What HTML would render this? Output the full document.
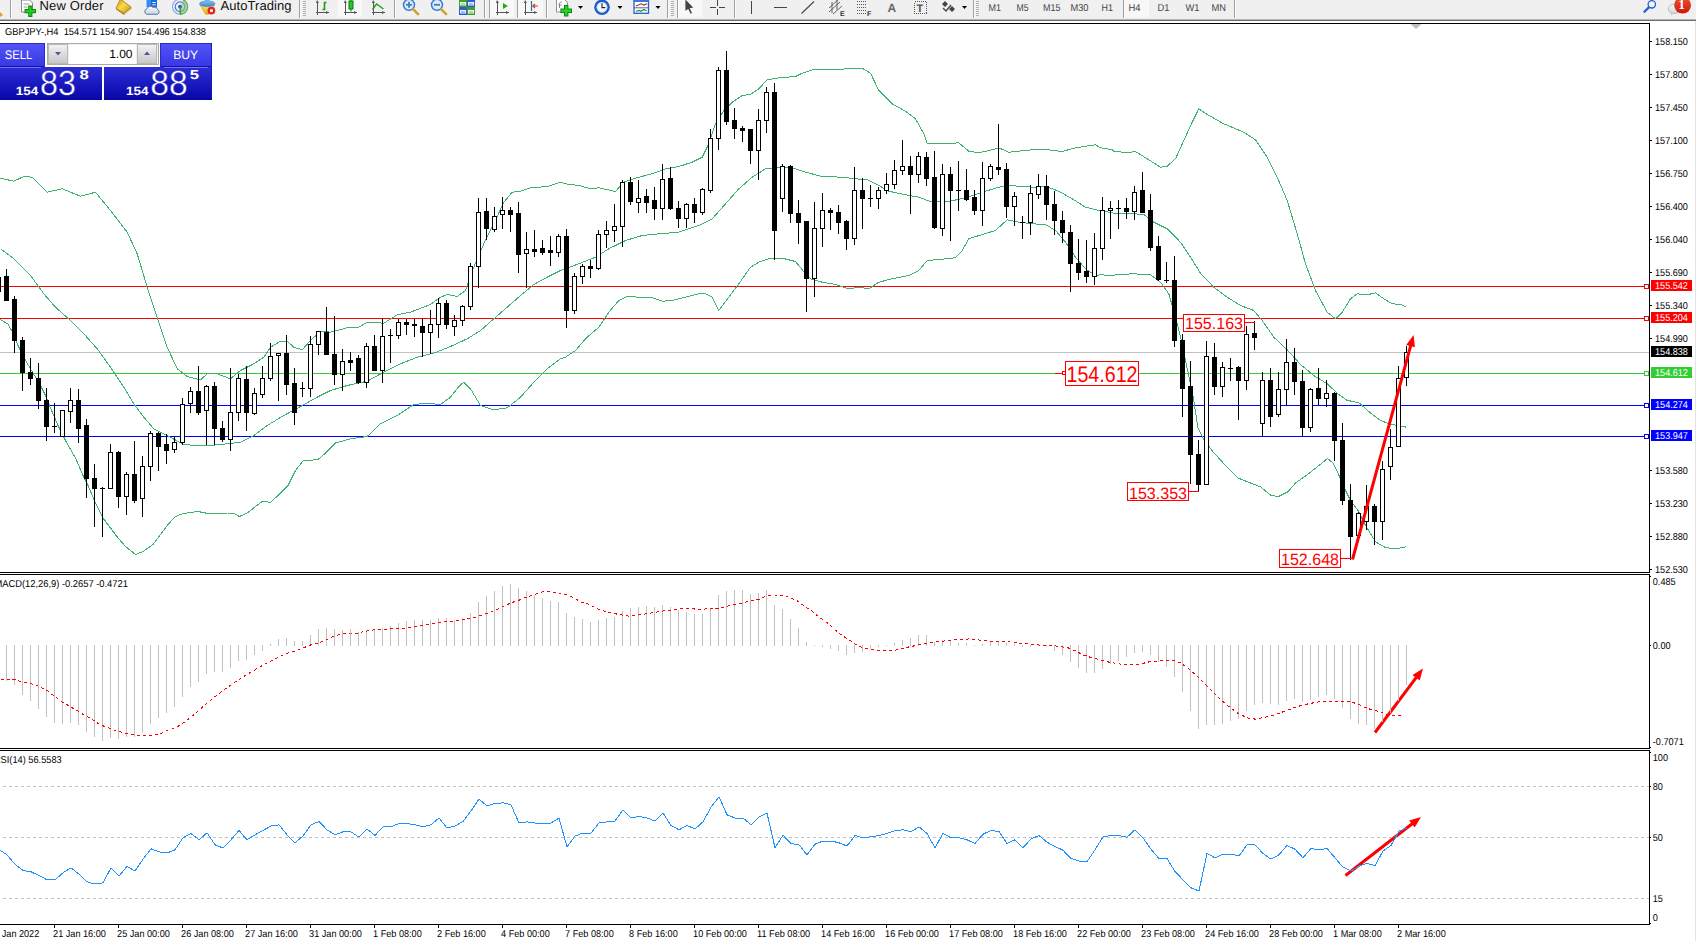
<!DOCTYPE html>
<html><head><meta charset="utf-8"><title>GBPJPY H4</title>
<style>html,body{margin:0;padding:0;background:#fff;overflow:hidden}body{width:1696px;height:941px;position:relative;font-family:"Liberation Sans",sans-serif}</style>
</head><body>
<svg width="1696" height="941" viewBox="0 0 1696 941" style="position:absolute;left:0;top:0;text-rendering:geometricPrecision">
<rect x="0" y="0" width="1696" height="941" fill="#fff"/>
<g shape-rendering="crispEdges">
<rect x="0" y="352" width="1649" height="1" fill="#c0c0c0"/>
<rect x="0" y="286" width="1649" height="1" fill="#ff0000"/>
<rect x="0" y="318" width="1649" height="1" fill="#ff0000"/>
<rect x="0" y="373" width="1649" height="1" fill="#32cd32"/>
<rect x="0" y="405" width="1649" height="1" fill="#0000ff"/>
<rect x="0" y="436" width="1649" height="1" fill="#0000ff"/>
</g>
<polyline points="0.5,178.2 13.8,181.2 23.8,176.5 32.2,177.2 47.2,192.2 62.2,188.8 80.5,196.2 95.5,192.2 110.5,210.5 127.2,232.2 137.2,253.8 147.2,287.2 157.2,317.2 167.2,347.2 177.2,368.8 187.2,376.5 200.5,379.8 207.2,373.8 217.2,373.8 230.5,378.8 240.5,370.5 253.8,363.8 263.8,357.2 270.5,347.2 280.5,341.2 287.2,341.2 293.8,347.2 302.2,349.8 310.5,340.5 320.5,331.2 330.5,332.2 347.2,327.8 358.8,327.2 367.2,322.2 383.8,323.2 397.2,314.8 410.5,312.2 430.5,304.5 440.5,297.2 447.2,294.5 457.2,296.5 465.5,290.5 473.8,267.2 483.8,243.8 493.8,223.8 503.8,202.2 512.2,192.2 520.5,191.2 530.5,187.8 547.2,186.5 560.5,182.2 565.5,183.8 578.8,185.5 590.5,188.8 598.8,187.8 615.5,191.5 623.8,182.2 638.8,177.2 652.2,173.8 665.5,168.8 678.8,166.5 692.2,162.2 702.2,157.2 707.2,147.2 715.5,123.8 723.8,110.5 732.2,102.2 742.2,95.5 750.5,94.5 758.8,88.8 767.2,79.8 778.8,77.8 795.5,76.5 802.2,73.2 812.2,69.8 832.2,69.5 848.8,68.8 862.2,68.2 870.5,73.2 878.8,90.5 892.2,103.8 905.5,111.2 915.5,118.8 923.8,133.8 927.2,143.2 945.5,143.8 958.8,142.8 968.8,151.2 978.8,152.8 992.2,149.8 998.8,147.8 1008.8,152.2 1032.2,149.8 1048.8,149.8 1062.2,151.5 1075.5,147.8 1095.5,144.8 1100.5,147.8 1112.2,149.8 1113.8,151.2 1127.2,152.8 1135.5,151.5 1147.2,158.8 1160.5,167.2 1167.2,166.2 1175.5,158.8 1183.8,140.5 1192.2,122.2 1198.8,108.8 1207.2,114.5 1223.8,123.8 1243.8,132.2 1255.5,139.8 1267.2,157.2 1277.2,177.2 1287.2,200.5 1297.2,233.8 1305.5,263.8 1315.5,290.5 1327.2,312.2 1335.5,318.8 1342.2,312.2 1350.5,298.8 1357.2,293.8 1367.2,294.8 1375.5,292.8 1383.8,298.8 1392.2,303.8 1400.5,304.5 1406.5,307.2" fill="none" stroke="#3CB371" stroke-width="1" shape-rendering="crispEdges"/>
<polyline points="0.5,248.8 13.8,258.8 30.5,275.5 43.8,293.8 55.5,307.2 70.5,320.5 83.8,333.8 97.2,348.8 110.5,367.2 123.8,387.2 133.8,403.8 143.8,417.2 153.8,428.8 163.0,433.5 175.5,440.0 183.0,444.2 198.0,446.0 215.5,445.0 230.5,443.5 240.5,442.2 253.8,435.5 267.2,425.5 283.8,415.5 300.5,406.5 317.2,397.2 330.5,390.5 347.2,385.5 367.2,381.2 383.8,372.2 400.5,363.8 417.2,357.2 433.8,353.2 450.5,346.5 467.2,338.8 480.5,330.5 493.8,318.8 507.2,307.2 520.5,295.5 533.8,284.5 547.2,277.2 560.5,270.5 565.5,268.8 578.8,263.8 595.5,257.2 608.8,248.8 625.5,240.5 642.2,235.5 658.8,233.8 678.8,232.2 698.8,225.5 712.2,218.8 725.5,203.8 738.8,188.8 752.2,177.2 765.5,168.8 778.8,167.2 792.2,167.8 805.5,172.2 822.2,176.5 842.2,177.2 855.5,178.8 867.2,179.8 878.8,185.5 888.8,191.2 905.5,194.8 918.8,197.2 932.2,202.2 948.8,201.5 965.5,197.8 982.2,192.2 998.8,187.2 1008.8,185.5 1032.2,187.2 1045.5,186.5 1058.8,191.2 1072.2,198.8 1085.5,207.2 1098.8,210.5 1100.5,210.5 1113.8,213.2 1115.5,213.2 1133.8,213.8 1143.8,214.5 1153.8,222.2 1167.2,228.8 1180.5,242.2 1190.5,257.2 1200.5,273.2 1213.8,287.2 1227.2,297.2 1240.5,305.5 1253.8,310.5 1262.2,320.5 1273.8,337.2 1287.2,349.8 1300.5,364.5 1313.8,375.5 1327.2,383.8 1337.2,393.2 1347.2,400.5 1350.5,401.0 1359.2,403.0 1370.5,413.0 1380.5,420.5 1390.5,424.2 1400.5,426.0 1406.5,427.2" fill="none" stroke="#3CB371" stroke-width="1" shape-rendering="crispEdges"/>
<polyline points="0.5,319.5 8.0,324.2 13.0,333.0 18.0,345.5 25.5,360.5 33.0,373.0 40.5,385.5 45.5,395.5 50.5,408.0 58.0,425.5 65.5,440.5 75.5,458.0 83.0,475.5 88.0,485.5 95.5,503.0 103.0,518.0 110.5,528.0 118.0,538.0 125.5,546.5 135.5,554.5 143.0,551.5 153.0,544.5 160.5,534.5 168.0,524.5 175.5,516.5 183.0,513.5 198.0,511.5 208.0,513.5 228.0,513.0 233.0,513.0 239.5,516.5 248.0,512.5 255.5,506.5 263.0,501.0 270.5,502.5 278.0,495.5 288.0,485.5 295.5,470.5 303.0,461.0 318.0,459.5 325.5,453.0 335.5,443.0 350.5,438.8 367.2,436.5 380.5,423.8 397.2,415.5 413.8,404.5 427.2,403.2 440.5,404.5 450.5,397.2 458.8,386.5 463.8,382.2 470.5,388.8 480.5,405.5 493.8,409.8 507.2,407.8 520.5,397.2 533.8,382.2 547.2,368.8 560.5,358.8 565.5,357.2 575.5,350.5 585.5,338.8 598.8,327.2 608.8,312.2 618.8,300.5 627.2,296.5 638.8,297.2 652.2,297.8 662.2,301.2 672.2,300.5 685.5,297.2 698.8,293.8 705.5,293.8 712.2,297.2 718.8,310.5 728.8,297.2 738.8,283.8 750.5,267.2 758.8,262.2 768.8,258.8 782.2,258.2 795.5,261.5 805.5,273.8 810.5,278.8 822.2,282.2 835.5,284.5 848.8,288.8 858.8,287.2 868.8,288.8 878.8,282.2 892.2,278.8 908.8,275.5 918.8,270.5 927.2,260.5 938.8,259.5 955.5,257.8 962.2,250.5 968.8,238.8 982.2,234.5 995.5,230.5 1007.2,219.8 1018.8,222.2 1032.2,223.8 1045.5,224.5 1055.5,230.5 1065.5,242.2 1075.5,257.2 1085.5,268.8 1095.5,275.5 1100.5,274.8 1112.2,275.5 1117.2,274.5 1133.8,273.8 1150.5,274.8 1160.5,282.2 1168.8,293.8 1175.5,317.2 1182.2,343.8 1185.5,360.5 1193.0,395.5 1198.0,428.0 1203.0,438.0 1213.0,451.8 1225.5,465.5 1238.0,478.0 1250.5,483.0 1260.5,486.8 1270.5,495.0 1278.0,496.8 1288.0,491.8 1295.5,483.0 1308.0,474.2 1320.5,464.2 1327.5,458.5 1333.0,463.0 1338.0,473.0 1343.0,485.5 1350.5,500.5 1358.0,510.5 1365.5,525.5 1375.5,541.8 1385.5,547.5 1395.5,548.8 1406.5,546.8" fill="none" stroke="#3CB371" stroke-width="1" shape-rendering="crispEdges"/>
<g shape-rendering="crispEdges">
<rect x="-2" y="270" width="1" height="23" fill="#000"/>
<rect x="-4" y="277" width="5" height="15" fill="#000"/>
<rect x="6" y="269" width="1" height="32" fill="#000"/>
<rect x="4" y="276" width="5" height="25" fill="#000"/>
<rect x="14" y="296" width="1" height="57" fill="#000"/>
<rect x="12" y="299" width="5" height="42" fill="#000"/>
<rect x="22" y="337" width="1" height="54" fill="#000"/>
<rect x="20" y="340" width="5" height="33" fill="#000"/>
<rect x="30" y="358" width="1" height="27" fill="#000"/>
<rect x="28" y="372" width="5" height="7" fill="#000"/>
<rect x="38" y="363" width="1" height="46" fill="#000"/>
<rect x="36" y="378" width="5" height="23" fill="#000"/>
<rect x="46" y="388" width="1" height="53" fill="#000"/>
<rect x="44" y="400" width="5" height="27" fill="#000"/>
<rect x="54" y="403" width="1" height="30" fill="#000"/>
<rect x="52" y="426" width="5" height="1" fill="#000"/>
<rect x="62" y="410" width="1" height="27" fill="#000"/>
<rect x="60" y="410" width="5" height="27" fill="#000"/>
<rect x="61" y="411" width="3" height="25" fill="#fff"/>
<rect x="70" y="388" width="1" height="35" fill="#000"/>
<rect x="68" y="400" width="5" height="12" fill="#000"/>
<rect x="69" y="401" width="3" height="10" fill="#fff"/>
<rect x="78" y="389" width="1" height="54" fill="#000"/>
<rect x="76" y="400" width="5" height="29" fill="#000"/>
<rect x="86" y="419" width="1" height="79" fill="#000"/>
<rect x="84" y="425" width="5" height="54" fill="#000"/>
<rect x="94" y="464" width="1" height="63" fill="#000"/>
<rect x="92" y="478" width="5" height="11" fill="#000"/>
<rect x="102" y="487" width="1" height="50" fill="#000"/>
<rect x="100" y="488" width="5" height="1" fill="#000"/>
<rect x="110" y="444" width="1" height="45" fill="#000"/>
<rect x="108" y="452" width="5" height="37" fill="#000"/>
<rect x="109" y="453" width="3" height="35" fill="#fff"/>
<rect x="118" y="451" width="1" height="57" fill="#000"/>
<rect x="116" y="452" width="5" height="45" fill="#000"/>
<rect x="126" y="472" width="1" height="43" fill="#000"/>
<rect x="124" y="474" width="5" height="23" fill="#000"/>
<rect x="125" y="475" width="3" height="21" fill="#fff"/>
<rect x="134" y="441" width="1" height="62" fill="#000"/>
<rect x="132" y="474" width="5" height="27" fill="#000"/>
<rect x="142" y="456" width="1" height="61" fill="#000"/>
<rect x="140" y="466" width="5" height="33" fill="#000"/>
<rect x="141" y="467" width="3" height="31" fill="#fff"/>
<rect x="150" y="431" width="1" height="50" fill="#000"/>
<rect x="148" y="433" width="5" height="34" fill="#000"/>
<rect x="149" y="434" width="3" height="32" fill="#fff"/>
<rect x="158" y="432" width="1" height="39" fill="#000"/>
<rect x="156" y="433" width="5" height="14" fill="#000"/>
<rect x="166" y="434" width="1" height="30" fill="#000"/>
<rect x="164" y="444" width="5" height="7" fill="#000"/>
<rect x="174" y="437" width="1" height="16" fill="#000"/>
<rect x="172" y="442" width="5" height="8" fill="#000"/>
<rect x="173" y="443" width="3" height="6" fill="#fff"/>
<rect x="182" y="398" width="1" height="47" fill="#000"/>
<rect x="180" y="404" width="5" height="39" fill="#000"/>
<rect x="181" y="405" width="3" height="37" fill="#fff"/>
<rect x="190" y="387" width="1" height="26" fill="#000"/>
<rect x="188" y="391" width="5" height="13" fill="#000"/>
<rect x="189" y="392" width="3" height="11" fill="#fff"/>
<rect x="198" y="366" width="1" height="49" fill="#000"/>
<rect x="196" y="391" width="5" height="22" fill="#000"/>
<rect x="206" y="385" width="1" height="60" fill="#000"/>
<rect x="204" y="386" width="5" height="25" fill="#000"/>
<rect x="205" y="387" width="3" height="23" fill="#fff"/>
<rect x="214" y="382" width="1" height="63" fill="#000"/>
<rect x="212" y="386" width="5" height="43" fill="#000"/>
<rect x="222" y="421" width="1" height="21" fill="#000"/>
<rect x="220" y="428" width="5" height="12" fill="#000"/>
<rect x="230" y="368" width="1" height="83" fill="#000"/>
<rect x="228" y="412" width="5" height="28" fill="#000"/>
<rect x="229" y="413" width="3" height="26" fill="#fff"/>
<rect x="238" y="374" width="1" height="47" fill="#000"/>
<rect x="236" y="378" width="5" height="35" fill="#000"/>
<rect x="237" y="379" width="3" height="33" fill="#fff"/>
<rect x="246" y="366" width="1" height="65" fill="#000"/>
<rect x="244" y="379" width="5" height="34" fill="#000"/>
<rect x="254" y="388" width="1" height="27" fill="#000"/>
<rect x="252" y="393" width="5" height="21" fill="#000"/>
<rect x="253" y="394" width="3" height="19" fill="#fff"/>
<rect x="262" y="366" width="1" height="32" fill="#000"/>
<rect x="260" y="378" width="5" height="17" fill="#000"/>
<rect x="261" y="379" width="3" height="15" fill="#fff"/>
<rect x="270" y="343" width="1" height="38" fill="#000"/>
<rect x="268" y="356" width="5" height="23" fill="#000"/>
<rect x="269" y="357" width="3" height="21" fill="#fff"/>
<rect x="278" y="353" width="1" height="48" fill="#000"/>
<rect x="276" y="353" width="5" height="3" fill="#000"/>
<rect x="277" y="354" width="3" height="1" fill="#fff"/>
<rect x="286" y="335" width="1" height="60" fill="#000"/>
<rect x="284" y="353" width="5" height="32" fill="#000"/>
<rect x="294" y="368" width="1" height="57" fill="#000"/>
<rect x="292" y="383" width="5" height="30" fill="#000"/>
<rect x="302" y="382" width="1" height="15" fill="#000"/>
<rect x="300" y="388" width="5" height="1" fill="#000"/>
<rect x="310" y="336" width="1" height="61" fill="#000"/>
<rect x="308" y="344" width="5" height="45" fill="#000"/>
<rect x="309" y="345" width="3" height="43" fill="#fff"/>
<rect x="318" y="331" width="1" height="24" fill="#000"/>
<rect x="316" y="331" width="5" height="14" fill="#000"/>
<rect x="317" y="332" width="3" height="12" fill="#fff"/>
<rect x="326" y="307" width="1" height="48" fill="#000"/>
<rect x="324" y="332" width="5" height="23" fill="#000"/>
<rect x="334" y="316" width="1" height="69" fill="#000"/>
<rect x="332" y="354" width="5" height="21" fill="#000"/>
<rect x="342" y="349" width="1" height="42" fill="#000"/>
<rect x="340" y="361" width="5" height="14" fill="#000"/>
<rect x="341" y="362" width="3" height="12" fill="#fff"/>
<rect x="350" y="352" width="1" height="19" fill="#000"/>
<rect x="348" y="360" width="5" height="3" fill="#000"/>
<rect x="358" y="355" width="1" height="29" fill="#000"/>
<rect x="356" y="358" width="5" height="25" fill="#000"/>
<rect x="366" y="343" width="1" height="45" fill="#000"/>
<rect x="364" y="346" width="5" height="37" fill="#000"/>
<rect x="365" y="347" width="3" height="35" fill="#fff"/>
<rect x="374" y="335" width="1" height="36" fill="#000"/>
<rect x="372" y="346" width="5" height="25" fill="#000"/>
<rect x="382" y="319" width="1" height="64" fill="#000"/>
<rect x="380" y="336" width="5" height="35" fill="#000"/>
<rect x="381" y="337" width="3" height="33" fill="#fff"/>
<rect x="390" y="329" width="1" height="34" fill="#000"/>
<rect x="388" y="335" width="5" height="1" fill="#000"/>
<rect x="398" y="319" width="1" height="20" fill="#000"/>
<rect x="396" y="322" width="5" height="14" fill="#000"/>
<rect x="397" y="323" width="3" height="12" fill="#fff"/>
<rect x="406" y="319" width="1" height="16" fill="#000"/>
<rect x="404" y="322" width="5" height="3" fill="#000"/>
<rect x="414" y="319" width="1" height="18" fill="#000"/>
<rect x="412" y="324" width="5" height="2" fill="#000"/>
<rect x="422" y="319" width="1" height="38" fill="#000"/>
<rect x="420" y="326" width="5" height="7" fill="#000"/>
<rect x="430" y="310" width="1" height="44" fill="#000"/>
<rect x="428" y="324" width="5" height="9" fill="#000"/>
<rect x="429" y="325" width="3" height="7" fill="#fff"/>
<rect x="438" y="298" width="1" height="40" fill="#000"/>
<rect x="436" y="303" width="5" height="22" fill="#000"/>
<rect x="437" y="304" width="3" height="20" fill="#fff"/>
<rect x="446" y="300" width="1" height="29" fill="#000"/>
<rect x="444" y="303" width="5" height="22" fill="#000"/>
<rect x="454" y="315" width="1" height="21" fill="#000"/>
<rect x="452" y="320" width="5" height="7" fill="#000"/>
<rect x="453" y="321" width="3" height="5" fill="#fff"/>
<rect x="462" y="305" width="1" height="21" fill="#000"/>
<rect x="460" y="306" width="5" height="15" fill="#000"/>
<rect x="461" y="307" width="3" height="13" fill="#fff"/>
<rect x="470" y="263" width="1" height="47" fill="#000"/>
<rect x="468" y="266" width="5" height="41" fill="#000"/>
<rect x="469" y="267" width="3" height="39" fill="#fff"/>
<rect x="478" y="198" width="1" height="90" fill="#000"/>
<rect x="476" y="212" width="5" height="55" fill="#000"/>
<rect x="477" y="213" width="3" height="53" fill="#fff"/>
<rect x="486" y="198" width="1" height="42" fill="#000"/>
<rect x="484" y="211" width="5" height="18" fill="#000"/>
<rect x="494" y="207" width="1" height="25" fill="#000"/>
<rect x="492" y="216" width="5" height="14" fill="#000"/>
<rect x="493" y="217" width="3" height="12" fill="#fff"/>
<rect x="502" y="197" width="1" height="32" fill="#000"/>
<rect x="500" y="210" width="5" height="5" fill="#000"/>
<rect x="501" y="211" width="3" height="3" fill="#fff"/>
<rect x="510" y="207" width="1" height="25" fill="#000"/>
<rect x="508" y="210" width="5" height="5" fill="#000"/>
<rect x="518" y="202" width="1" height="71" fill="#000"/>
<rect x="516" y="213" width="5" height="42" fill="#000"/>
<rect x="526" y="232" width="1" height="56" fill="#000"/>
<rect x="524" y="249" width="5" height="5" fill="#000"/>
<rect x="525" y="250" width="3" height="3" fill="#fff"/>
<rect x="534" y="230" width="1" height="27" fill="#000"/>
<rect x="532" y="249" width="5" height="3" fill="#000"/>
<rect x="542" y="240" width="1" height="15" fill="#000"/>
<rect x="540" y="248" width="5" height="5" fill="#000"/>
<rect x="550" y="236" width="1" height="30" fill="#000"/>
<rect x="548" y="250" width="5" height="3" fill="#000"/>
<rect x="558" y="234" width="1" height="23" fill="#000"/>
<rect x="556" y="236" width="5" height="17" fill="#000"/>
<rect x="557" y="237" width="3" height="15" fill="#fff"/>
<rect x="566" y="229" width="1" height="99" fill="#000"/>
<rect x="564" y="236" width="5" height="75" fill="#000"/>
<rect x="574" y="273" width="1" height="41" fill="#000"/>
<rect x="572" y="276" width="5" height="35" fill="#000"/>
<rect x="573" y="277" width="3" height="33" fill="#fff"/>
<rect x="582" y="264" width="1" height="20" fill="#000"/>
<rect x="580" y="266" width="5" height="11" fill="#000"/>
<rect x="581" y="267" width="3" height="9" fill="#fff"/>
<rect x="590" y="260" width="1" height="18" fill="#000"/>
<rect x="588" y="266" width="5" height="3" fill="#000"/>
<rect x="598" y="230" width="1" height="40" fill="#000"/>
<rect x="596" y="234" width="5" height="35" fill="#000"/>
<rect x="597" y="235" width="3" height="33" fill="#fff"/>
<rect x="606" y="221" width="1" height="27" fill="#000"/>
<rect x="604" y="230" width="5" height="5" fill="#000"/>
<rect x="605" y="231" width="3" height="3" fill="#fff"/>
<rect x="614" y="204" width="1" height="38" fill="#000"/>
<rect x="612" y="226" width="5" height="5" fill="#000"/>
<rect x="613" y="227" width="3" height="3" fill="#fff"/>
<rect x="622" y="180" width="1" height="67" fill="#000"/>
<rect x="620" y="182" width="5" height="45" fill="#000"/>
<rect x="621" y="183" width="3" height="43" fill="#fff"/>
<rect x="630" y="177" width="1" height="28" fill="#000"/>
<rect x="628" y="182" width="5" height="20" fill="#000"/>
<rect x="638" y="180" width="1" height="33" fill="#000"/>
<rect x="636" y="198" width="5" height="5" fill="#000"/>
<rect x="637" y="199" width="3" height="3" fill="#fff"/>
<rect x="646" y="189" width="1" height="24" fill="#000"/>
<rect x="644" y="196" width="5" height="7" fill="#000"/>
<rect x="654" y="187" width="1" height="33" fill="#000"/>
<rect x="652" y="200" width="5" height="9" fill="#000"/>
<rect x="662" y="164" width="1" height="56" fill="#000"/>
<rect x="660" y="179" width="5" height="30" fill="#000"/>
<rect x="661" y="180" width="3" height="28" fill="#fff"/>
<rect x="670" y="167" width="1" height="43" fill="#000"/>
<rect x="668" y="178" width="5" height="31" fill="#000"/>
<rect x="678" y="201" width="1" height="27" fill="#000"/>
<rect x="676" y="208" width="5" height="11" fill="#000"/>
<rect x="686" y="203" width="1" height="25" fill="#000"/>
<rect x="684" y="204" width="5" height="15" fill="#000"/>
<rect x="685" y="205" width="3" height="13" fill="#fff"/>
<rect x="694" y="198" width="1" height="25" fill="#000"/>
<rect x="692" y="204" width="5" height="9" fill="#000"/>
<rect x="702" y="188" width="1" height="27" fill="#000"/>
<rect x="700" y="189" width="5" height="24" fill="#000"/>
<rect x="701" y="190" width="3" height="22" fill="#fff"/>
<rect x="710" y="129" width="1" height="64" fill="#000"/>
<rect x="708" y="138" width="5" height="53" fill="#000"/>
<rect x="709" y="139" width="3" height="51" fill="#fff"/>
<rect x="718" y="67" width="1" height="83" fill="#000"/>
<rect x="716" y="70" width="5" height="69" fill="#000"/>
<rect x="717" y="71" width="3" height="67" fill="#fff"/>
<rect x="726" y="51" width="1" height="74" fill="#000"/>
<rect x="724" y="70" width="5" height="52" fill="#000"/>
<rect x="734" y="108" width="1" height="31" fill="#000"/>
<rect x="732" y="120" width="5" height="9" fill="#000"/>
<rect x="742" y="126" width="1" height="16" fill="#000"/>
<rect x="740" y="128" width="5" height="3" fill="#000"/>
<rect x="750" y="129" width="1" height="35" fill="#000"/>
<rect x="748" y="129" width="5" height="22" fill="#000"/>
<rect x="758" y="109" width="1" height="71" fill="#000"/>
<rect x="756" y="120" width="5" height="31" fill="#000"/>
<rect x="757" y="121" width="3" height="29" fill="#fff"/>
<rect x="766" y="87" width="1" height="46" fill="#000"/>
<rect x="764" y="92" width="5" height="29" fill="#000"/>
<rect x="765" y="93" width="3" height="27" fill="#fff"/>
<rect x="774" y="83" width="1" height="177" fill="#000"/>
<rect x="772" y="92" width="5" height="139" fill="#000"/>
<rect x="782" y="164" width="1" height="48" fill="#000"/>
<rect x="780" y="166" width="5" height="33" fill="#000"/>
<rect x="781" y="167" width="3" height="31" fill="#fff"/>
<rect x="790" y="165" width="1" height="58" fill="#000"/>
<rect x="788" y="166" width="5" height="48" fill="#000"/>
<rect x="798" y="200" width="1" height="44" fill="#000"/>
<rect x="796" y="213" width="5" height="10" fill="#000"/>
<rect x="806" y="221" width="1" height="91" fill="#000"/>
<rect x="804" y="221" width="5" height="58" fill="#000"/>
<rect x="814" y="202" width="1" height="95" fill="#000"/>
<rect x="812" y="228" width="5" height="51" fill="#000"/>
<rect x="813" y="229" width="3" height="49" fill="#fff"/>
<rect x="822" y="193" width="1" height="54" fill="#000"/>
<rect x="820" y="210" width="5" height="19" fill="#000"/>
<rect x="821" y="211" width="3" height="17" fill="#fff"/>
<rect x="830" y="208" width="1" height="22" fill="#000"/>
<rect x="828" y="210" width="5" height="3" fill="#000"/>
<rect x="838" y="205" width="1" height="29" fill="#000"/>
<rect x="836" y="212" width="5" height="11" fill="#000"/>
<rect x="846" y="220" width="1" height="30" fill="#000"/>
<rect x="844" y="221" width="5" height="18" fill="#000"/>
<rect x="854" y="167" width="1" height="78" fill="#000"/>
<rect x="852" y="190" width="5" height="49" fill="#000"/>
<rect x="853" y="191" width="3" height="47" fill="#fff"/>
<rect x="862" y="178" width="1" height="51" fill="#000"/>
<rect x="860" y="190" width="5" height="9" fill="#000"/>
<rect x="870" y="185" width="1" height="22" fill="#000"/>
<rect x="868" y="198" width="5" height="1" fill="#000"/>
<rect x="878" y="187" width="1" height="22" fill="#000"/>
<rect x="876" y="190" width="5" height="9" fill="#000"/>
<rect x="877" y="191" width="3" height="7" fill="#fff"/>
<rect x="886" y="173" width="1" height="21" fill="#000"/>
<rect x="884" y="184" width="5" height="7" fill="#000"/>
<rect x="885" y="185" width="3" height="5" fill="#fff"/>
<rect x="894" y="160" width="1" height="29" fill="#000"/>
<rect x="892" y="170" width="5" height="15" fill="#000"/>
<rect x="893" y="171" width="3" height="13" fill="#fff"/>
<rect x="902" y="140" width="1" height="35" fill="#000"/>
<rect x="900" y="166" width="5" height="5" fill="#000"/>
<rect x="901" y="167" width="3" height="3" fill="#fff"/>
<rect x="910" y="156" width="1" height="58" fill="#000"/>
<rect x="908" y="166" width="5" height="9" fill="#000"/>
<rect x="918" y="152" width="1" height="31" fill="#000"/>
<rect x="916" y="156" width="5" height="19" fill="#000"/>
<rect x="917" y="157" width="3" height="17" fill="#fff"/>
<rect x="926" y="152" width="1" height="34" fill="#000"/>
<rect x="924" y="157" width="5" height="22" fill="#000"/>
<rect x="934" y="151" width="1" height="78" fill="#000"/>
<rect x="932" y="177" width="5" height="51" fill="#000"/>
<rect x="942" y="164" width="1" height="72" fill="#000"/>
<rect x="940" y="174" width="5" height="55" fill="#000"/>
<rect x="941" y="175" width="3" height="53" fill="#fff"/>
<rect x="950" y="167" width="1" height="74" fill="#000"/>
<rect x="948" y="174" width="5" height="17" fill="#000"/>
<rect x="958" y="161" width="1" height="50" fill="#000"/>
<rect x="956" y="190" width="5" height="1" fill="#000"/>
<rect x="966" y="169" width="1" height="32" fill="#000"/>
<rect x="964" y="190" width="5" height="10" fill="#000"/>
<rect x="974" y="190" width="1" height="25" fill="#000"/>
<rect x="972" y="197" width="5" height="14" fill="#000"/>
<rect x="982" y="162" width="1" height="64" fill="#000"/>
<rect x="980" y="178" width="5" height="33" fill="#000"/>
<rect x="981" y="179" width="3" height="31" fill="#fff"/>
<rect x="990" y="164" width="1" height="17" fill="#000"/>
<rect x="988" y="166" width="5" height="13" fill="#000"/>
<rect x="989" y="167" width="3" height="11" fill="#fff"/>
<rect x="998" y="124" width="1" height="51" fill="#000"/>
<rect x="996" y="167" width="5" height="3" fill="#000"/>
<rect x="1006" y="163" width="1" height="55" fill="#000"/>
<rect x="1004" y="169" width="5" height="38" fill="#000"/>
<rect x="1014" y="192" width="1" height="34" fill="#000"/>
<rect x="1012" y="196" width="5" height="11" fill="#000"/>
<rect x="1013" y="197" width="3" height="9" fill="#fff"/>
<rect x="1022" y="216" width="1" height="23" fill="#000"/>
<rect x="1020" y="222" width="5" height="1" fill="#000"/>
<rect x="1030" y="185" width="1" height="50" fill="#000"/>
<rect x="1028" y="193" width="5" height="30" fill="#000"/>
<rect x="1029" y="194" width="3" height="28" fill="#fff"/>
<rect x="1038" y="174" width="1" height="25" fill="#000"/>
<rect x="1036" y="186" width="5" height="9" fill="#000"/>
<rect x="1037" y="187" width="3" height="7" fill="#fff"/>
<rect x="1046" y="175" width="1" height="45" fill="#000"/>
<rect x="1044" y="186" width="5" height="19" fill="#000"/>
<rect x="1054" y="191" width="1" height="44" fill="#000"/>
<rect x="1052" y="204" width="5" height="17" fill="#000"/>
<rect x="1062" y="211" width="1" height="32" fill="#000"/>
<rect x="1060" y="220" width="5" height="13" fill="#000"/>
<rect x="1070" y="225" width="1" height="67" fill="#000"/>
<rect x="1068" y="232" width="5" height="32" fill="#000"/>
<rect x="1078" y="239" width="1" height="41" fill="#000"/>
<rect x="1076" y="263" width="5" height="10" fill="#000"/>
<rect x="1086" y="240" width="1" height="43" fill="#000"/>
<rect x="1084" y="271" width="5" height="6" fill="#000"/>
<rect x="1094" y="233" width="1" height="52" fill="#000"/>
<rect x="1092" y="248" width="5" height="29" fill="#000"/>
<rect x="1093" y="249" width="3" height="27" fill="#fff"/>
<rect x="1102" y="197" width="1" height="63" fill="#000"/>
<rect x="1100" y="210" width="5" height="39" fill="#000"/>
<rect x="1101" y="211" width="3" height="37" fill="#fff"/>
<rect x="1110" y="201" width="1" height="38" fill="#000"/>
<rect x="1108" y="208" width="5" height="3" fill="#000"/>
<rect x="1109" y="209" width="3" height="1" fill="#fff"/>
<rect x="1118" y="200" width="1" height="29" fill="#000"/>
<rect x="1116" y="208" width="5" height="1" fill="#000"/>
<rect x="1126" y="198" width="1" height="21" fill="#000"/>
<rect x="1124" y="208" width="5" height="4" fill="#000"/>
<rect x="1134" y="186" width="1" height="34" fill="#000"/>
<rect x="1132" y="192" width="5" height="20" fill="#000"/>
<rect x="1133" y="193" width="3" height="18" fill="#fff"/>
<rect x="1142" y="172" width="1" height="41" fill="#000"/>
<rect x="1140" y="190" width="5" height="23" fill="#000"/>
<rect x="1150" y="194" width="1" height="57" fill="#000"/>
<rect x="1148" y="210" width="5" height="38" fill="#000"/>
<rect x="1158" y="236" width="1" height="45" fill="#000"/>
<rect x="1156" y="246" width="5" height="34" fill="#000"/>
<rect x="1166" y="262" width="1" height="21" fill="#000"/>
<rect x="1164" y="280" width="5" height="1" fill="#000"/>
<rect x="1174" y="256" width="1" height="91" fill="#000"/>
<rect x="1172" y="280" width="5" height="61" fill="#000"/>
<rect x="1182" y="334" width="1" height="83" fill="#000"/>
<rect x="1180" y="340" width="5" height="49" fill="#000"/>
<rect x="1190" y="361" width="1" height="123" fill="#000"/>
<rect x="1188" y="386" width="5" height="69" fill="#000"/>
<rect x="1198" y="440" width="1" height="52" fill="#000"/>
<rect x="1196" y="454" width="5" height="31" fill="#000"/>
<rect x="1206" y="341" width="1" height="144" fill="#000"/>
<rect x="1204" y="356" width="5" height="129" fill="#000"/>
<rect x="1205" y="357" width="3" height="127" fill="#fff"/>
<rect x="1214" y="343" width="1" height="52" fill="#000"/>
<rect x="1212" y="357" width="5" height="30" fill="#000"/>
<rect x="1222" y="362" width="1" height="35" fill="#000"/>
<rect x="1220" y="367" width="5" height="20" fill="#000"/>
<rect x="1221" y="368" width="3" height="18" fill="#fff"/>
<rect x="1230" y="358" width="1" height="23" fill="#000"/>
<rect x="1228" y="368" width="5" height="1" fill="#000"/>
<rect x="1238" y="366" width="1" height="54" fill="#000"/>
<rect x="1236" y="367" width="5" height="14" fill="#000"/>
<rect x="1246" y="326" width="1" height="64" fill="#000"/>
<rect x="1244" y="334" width="5" height="47" fill="#000"/>
<rect x="1245" y="335" width="3" height="45" fill="#fff"/>
<rect x="1254" y="321" width="1" height="29" fill="#000"/>
<rect x="1252" y="333" width="5" height="5" fill="#000"/>
<rect x="1262" y="372" width="1" height="65" fill="#000"/>
<rect x="1260" y="380" width="5" height="44" fill="#000"/>
<rect x="1261" y="381" width="3" height="42" fill="#fff"/>
<rect x="1270" y="368" width="1" height="59" fill="#000"/>
<rect x="1268" y="380" width="5" height="37" fill="#000"/>
<rect x="1278" y="372" width="1" height="45" fill="#000"/>
<rect x="1276" y="389" width="5" height="26" fill="#000"/>
<rect x="1277" y="390" width="3" height="24" fill="#fff"/>
<rect x="1286" y="339" width="1" height="67" fill="#000"/>
<rect x="1284" y="362" width="5" height="28" fill="#000"/>
<rect x="1285" y="363" width="3" height="26" fill="#fff"/>
<rect x="1294" y="348" width="1" height="47" fill="#000"/>
<rect x="1292" y="362" width="5" height="20" fill="#000"/>
<rect x="1302" y="370" width="1" height="67" fill="#000"/>
<rect x="1300" y="381" width="5" height="47" fill="#000"/>
<rect x="1310" y="388" width="1" height="44" fill="#000"/>
<rect x="1308" y="389" width="5" height="39" fill="#000"/>
<rect x="1309" y="390" width="3" height="37" fill="#fff"/>
<rect x="1318" y="368" width="1" height="37" fill="#000"/>
<rect x="1316" y="388" width="5" height="11" fill="#000"/>
<rect x="1326" y="380" width="1" height="27" fill="#000"/>
<rect x="1324" y="393" width="5" height="6" fill="#000"/>
<rect x="1325" y="394" width="3" height="4" fill="#fff"/>
<rect x="1334" y="392" width="1" height="69" fill="#000"/>
<rect x="1332" y="393" width="5" height="48" fill="#000"/>
<rect x="1342" y="423" width="1" height="82" fill="#000"/>
<rect x="1340" y="440" width="5" height="61" fill="#000"/>
<rect x="1350" y="484" width="1" height="76" fill="#000"/>
<rect x="1348" y="500" width="5" height="37" fill="#000"/>
<rect x="1358" y="512" width="1" height="25" fill="#000"/>
<rect x="1356" y="513" width="5" height="23" fill="#000"/>
<rect x="1357" y="514" width="3" height="21" fill="#fff"/>
<rect x="1366" y="485" width="1" height="45" fill="#000"/>
<rect x="1364" y="506" width="5" height="16" fill="#000"/>
<rect x="1365" y="507" width="3" height="14" fill="#fff"/>
<rect x="1374" y="504" width="1" height="41" fill="#000"/>
<rect x="1372" y="506" width="5" height="16" fill="#000"/>
<rect x="1382" y="461" width="1" height="79" fill="#000"/>
<rect x="1380" y="469" width="5" height="53" fill="#000"/>
<rect x="1381" y="470" width="3" height="51" fill="#fff"/>
<rect x="1390" y="429" width="1" height="51" fill="#000"/>
<rect x="1388" y="447" width="5" height="20" fill="#000"/>
<rect x="1389" y="448" width="3" height="18" fill="#fff"/>
<rect x="1398" y="366" width="1" height="81" fill="#000"/>
<rect x="1396" y="378" width="5" height="69" fill="#000"/>
<rect x="1397" y="379" width="3" height="67" fill="#fff"/>
<rect x="1406" y="346" width="1" height="40" fill="#000"/>
<rect x="1404" y="352" width="5" height="26" fill="#000"/>
<rect x="1405" y="353" width="3" height="24" fill="#fff"/>
</g>
<g shape-rendering="crispEdges" fill="#ff0000">
<rect x="1244" y="322" width="11" height="1"/>
<rect x="1189" y="491" width="10" height="1"/>
<rect x="1341" y="558" width="10" height="1"/>
<rect x="1055" y="373" width="8" height="1"/>
</g>
<rect x="1183.5" y="314.5" width="61.0" height="17.0" fill="#fff" stroke="#ff0000" stroke-width="1" shape-rendering="crispEdges"/>
<text x="1214.0" y="329.4" font-family="Liberation Sans, sans-serif" font-size="16.5" fill="#ff0000" text-anchor="middle" textLength="58.0" lengthAdjust="spacingAndGlyphs">155.163</text>
<rect x="1127.5" y="482.5" width="61.0" height="18.0" fill="#fff" stroke="#ff0000" stroke-width="1" shape-rendering="crispEdges"/>
<text x="1158.0" y="498.9" font-family="Liberation Sans, sans-serif" font-size="16.5" fill="#ff0000" text-anchor="middle" textLength="58.0" lengthAdjust="spacingAndGlyphs">153.353</text>
<rect x="1279.5" y="549.5" width="61.0" height="18.0" fill="#fff" stroke="#ff0000" stroke-width="1" shape-rendering="crispEdges"/>
<text x="1310.0" y="564.9" font-family="Liberation Sans, sans-serif" font-size="16.5" fill="#ff0000" text-anchor="middle" textLength="58.0" lengthAdjust="spacingAndGlyphs">152.648</text>
<rect x="1065.5" y="361.5" width="73.0" height="24.0" fill="#fff" stroke="#ff0000" stroke-width="1" shape-rendering="crispEdges"/>
<text x="1102.0" y="381.7" font-family="Liberation Sans, sans-serif" font-size="22.5" fill="#ff0000" text-anchor="middle" textLength="71.0" lengthAdjust="spacingAndGlyphs">154.612</text>
<rect x="1062.5" y="371.5" width="3" height="3" fill="#fff" stroke="#ff0000" shape-rendering="crispEdges"/>
<line x1="1352.5" y1="559.5" x2="1411.1" y2="344.2" stroke="#ff0000" stroke-width="3"/>
<polygon points="1413.6,335.0 1414.9,347.3 1406.2,344.9" fill="#ff0000"/>
<line x1="1375.0" y1="732.5" x2="1417.3" y2="676.1" stroke="#ff0000" stroke-width="3"/>
<polygon points="1423.0,668.5 1419.7,680.4 1412.5,675.0" fill="#ff0000"/>
<line x1="1345.5" y1="875.5" x2="1413.5" y2="822.8" stroke="#ff0000" stroke-width="3"/>
<polygon points="1421.0,817.0 1414.7,827.6 1409.2,820.5" fill="#ff0000"/>
<g shape-rendering="crispEdges" fill="#000">
<rect x="1649" y="24" width="1" height="900"/>
<rect x="1650" y="41" width="2" height="1"/>
<rect x="1650" y="74" width="2" height="1"/>
<rect x="1650" y="107" width="2" height="1"/>
<rect x="1650" y="140" width="2" height="1"/>
<rect x="1650" y="173" width="2" height="1"/>
<rect x="1650" y="206" width="2" height="1"/>
<rect x="1650" y="239" width="2" height="1"/>
<rect x="1650" y="272" width="2" height="1"/>
<rect x="1650" y="305" width="2" height="1"/>
<rect x="1650" y="338" width="2" height="1"/>
<rect x="1650" y="470" width="2" height="1"/>
<rect x="1650" y="503" width="2" height="1"/>
<rect x="1650" y="536" width="2" height="1"/>
<rect x="1650" y="569" width="2" height="1"/>
<rect x="1650" y="576" width="1" height="1"/>
<rect x="1650" y="645" width="1" height="1"/>
<rect x="1650" y="747" width="1" height="1"/>
<rect x="1650" y="752" width="1" height="1"/>
<rect x="1650" y="786" width="1" height="1"/>
<rect x="1650" y="837" width="1" height="1"/>
<rect x="1650" y="923" width="1" height="1"/>
</g>
<text transform="translate(1655.00,45.00) scale(0.911,1)" font-family="Liberation Sans, sans-serif" font-size="10.0" fill="#000">158.150</text>
<text transform="translate(1655.00,78.00) scale(0.911,1)" font-family="Liberation Sans, sans-serif" font-size="10.0" fill="#000">157.800</text>
<text transform="translate(1655.00,111.00) scale(0.911,1)" font-family="Liberation Sans, sans-serif" font-size="10.0" fill="#000">157.450</text>
<text transform="translate(1655.00,144.00) scale(0.911,1)" font-family="Liberation Sans, sans-serif" font-size="10.0" fill="#000">157.100</text>
<text transform="translate(1655.00,177.00) scale(0.911,1)" font-family="Liberation Sans, sans-serif" font-size="10.0" fill="#000">156.750</text>
<text transform="translate(1655.00,210.00) scale(0.911,1)" font-family="Liberation Sans, sans-serif" font-size="10.0" fill="#000">156.400</text>
<text transform="translate(1655.00,243.00) scale(0.911,1)" font-family="Liberation Sans, sans-serif" font-size="10.0" fill="#000">156.040</text>
<text transform="translate(1655.00,276.00) scale(0.911,1)" font-family="Liberation Sans, sans-serif" font-size="10.0" fill="#000">155.690</text>
<text transform="translate(1655.00,309.00) scale(0.911,1)" font-family="Liberation Sans, sans-serif" font-size="10.0" fill="#000">155.340</text>
<text transform="translate(1655.00,342.00) scale(0.911,1)" font-family="Liberation Sans, sans-serif" font-size="10.0" fill="#000">154.990</text>
<text transform="translate(1655.00,474.00) scale(0.911,1)" font-family="Liberation Sans, sans-serif" font-size="10.0" fill="#000">153.580</text>
<text transform="translate(1655.00,507.00) scale(0.911,1)" font-family="Liberation Sans, sans-serif" font-size="10.0" fill="#000">153.230</text>
<text transform="translate(1655.00,540.00) scale(0.911,1)" font-family="Liberation Sans, sans-serif" font-size="10.0" fill="#000">152.880</text>
<text transform="translate(1655.00,573.00) scale(0.911,1)" font-family="Liberation Sans, sans-serif" font-size="10.0" fill="#000">152.530</text>
<rect x="1651" y="280" width="41" height="11" fill="#ff0000" shape-rendering="crispEdges"/>
<rect x="1644.5" y="284.5" width="4" height="4" fill="#fff" stroke="#ff0000" shape-rendering="crispEdges"/>
<text transform="translate(1655.00,289.00) scale(0.911,1)" font-family="Liberation Sans, sans-serif" font-size="10.0" fill="#fff">155.542</text>
<rect x="1651" y="312" width="41" height="11" fill="#ff0000" shape-rendering="crispEdges"/>
<rect x="1644.5" y="316.5" width="4" height="4" fill="#fff" stroke="#ff0000" shape-rendering="crispEdges"/>
<text transform="translate(1655.00,321.00) scale(0.911,1)" font-family="Liberation Sans, sans-serif" font-size="10.0" fill="#fff">155.204</text>
<rect x="1651" y="346" width="41" height="11" fill="#000" shape-rendering="crispEdges"/>
<text transform="translate(1655.00,355.00) scale(0.911,1)" font-family="Liberation Sans, sans-serif" font-size="10.0" fill="#fff">154.838</text>
<rect x="1651" y="367" width="41" height="11" fill="#32cd32" shape-rendering="crispEdges"/>
<rect x="1644.5" y="371.5" width="4" height="4" fill="#fff" stroke="#32cd32" shape-rendering="crispEdges"/>
<text transform="translate(1655.00,376.00) scale(0.911,1)" font-family="Liberation Sans, sans-serif" font-size="10.0" fill="#fff">154.612</text>
<rect x="1651" y="399" width="41" height="11" fill="#0000ff" shape-rendering="crispEdges"/>
<rect x="1644.5" y="403.5" width="4" height="4" fill="#fff" stroke="#0000ff" shape-rendering="crispEdges"/>
<text transform="translate(1655.00,408.00) scale(0.911,1)" font-family="Liberation Sans, sans-serif" font-size="10.0" fill="#fff">154.274</text>
<rect x="1651" y="430" width="41" height="11" fill="#0000ff" shape-rendering="crispEdges"/>
<rect x="1644.5" y="434.5" width="4" height="4" fill="#fff" stroke="#0000ff" shape-rendering="crispEdges"/>
<text transform="translate(1655.00,439.00) scale(0.911,1)" font-family="Liberation Sans, sans-serif" font-size="10.0" fill="#fff">153.947</text>
<text transform="translate(1652.80,585.00) scale(0.911,1)" font-family="Liberation Sans, sans-serif" font-size="10.0" fill="#000">0.485</text>
<text transform="translate(1652.80,649.00) scale(0.911,1)" font-family="Liberation Sans, sans-serif" font-size="10.0" fill="#000">0.00</text>
<text transform="translate(1652.80,745.00) scale(0.911,1)" font-family="Liberation Sans, sans-serif" font-size="10.0" fill="#000">-0.7071</text>
<text transform="translate(1652.80,761.00) scale(0.911,1)" font-family="Liberation Sans, sans-serif" font-size="10.0" fill="#000">100</text>
<text transform="translate(1652.80,790.00) scale(0.911,1)" font-family="Liberation Sans, sans-serif" font-size="10.0" fill="#000">80</text>
<text transform="translate(1652.80,841.00) scale(0.911,1)" font-family="Liberation Sans, sans-serif" font-size="10.0" fill="#000">50</text>
<text transform="translate(1652.80,902.00) scale(0.911,1)" font-family="Liberation Sans, sans-serif" font-size="10.0" fill="#000">15</text>
<text transform="translate(1652.80,921.00) scale(0.911,1)" font-family="Liberation Sans, sans-serif" font-size="10.0" fill="#000">0</text>
<g shape-rendering="crispEdges">
<rect x="0" y="572" width="1650" height="1" fill="#000"/>
<rect x="0" y="573" width="1650" height="1" fill="#fff"/>
<rect x="0" y="574" width="1650" height="1" fill="#000"/>
<rect x="0" y="748" width="1650" height="1" fill="#000"/>
<rect x="0" y="749" width="1650" height="1" fill="#fff"/>
<rect x="0" y="750" width="1650" height="1" fill="#000"/>
<rect x="0" y="924" width="1650" height="1" fill="#000"/>
<rect x="54" y="925" width="1" height="3" fill="#000"/>
<rect x="118" y="925" width="1" height="3" fill="#000"/>
<rect x="182" y="925" width="1" height="3" fill="#000"/>
<rect x="246" y="925" width="1" height="3" fill="#000"/>
<rect x="310" y="925" width="1" height="3" fill="#000"/>
<rect x="374" y="925" width="1" height="3" fill="#000"/>
<rect x="438" y="925" width="1" height="3" fill="#000"/>
<rect x="502" y="925" width="1" height="3" fill="#000"/>
<rect x="566" y="925" width="1" height="3" fill="#000"/>
<rect x="630" y="925" width="1" height="3" fill="#000"/>
<rect x="694" y="925" width="1" height="3" fill="#000"/>
<rect x="758" y="925" width="1" height="3" fill="#000"/>
<rect x="822" y="925" width="1" height="3" fill="#000"/>
<rect x="886" y="925" width="1" height="3" fill="#000"/>
<rect x="950" y="925" width="1" height="3" fill="#000"/>
<rect x="1014" y="925" width="1" height="3" fill="#000"/>
<rect x="1078" y="925" width="1" height="3" fill="#000"/>
<rect x="1142" y="925" width="1" height="3" fill="#000"/>
<rect x="1206" y="925" width="1" height="3" fill="#000"/>
<rect x="1270" y="925" width="1" height="3" fill="#000"/>
<rect x="1334" y="925" width="1" height="3" fill="#000"/>
<rect x="1398" y="925" width="1" height="3" fill="#000"/>
</g>
<text transform="translate(-10.90,937.00) scale(0.911,1)" font-family="Liberation Sans, sans-serif" font-size="10.0" fill="#000">20 Jan 2022</text>
<text transform="translate(53.10,937.00) scale(0.911,1)" font-family="Liberation Sans, sans-serif" font-size="10.0" fill="#000">21 Jan 16:00</text>
<text transform="translate(117.10,937.00) scale(0.911,1)" font-family="Liberation Sans, sans-serif" font-size="10.0" fill="#000">25 Jan 00:00</text>
<text transform="translate(181.10,937.00) scale(0.911,1)" font-family="Liberation Sans, sans-serif" font-size="10.0" fill="#000">26 Jan 08:00</text>
<text transform="translate(245.10,937.00) scale(0.911,1)" font-family="Liberation Sans, sans-serif" font-size="10.0" fill="#000">27 Jan 16:00</text>
<text transform="translate(309.10,937.00) scale(0.911,1)" font-family="Liberation Sans, sans-serif" font-size="10.0" fill="#000">31 Jan 00:00</text>
<text transform="translate(373.10,937.00) scale(0.911,1)" font-family="Liberation Sans, sans-serif" font-size="10.0" fill="#000">1 Feb 08:00</text>
<text transform="translate(437.10,937.00) scale(0.911,1)" font-family="Liberation Sans, sans-serif" font-size="10.0" fill="#000">2 Feb 16:00</text>
<text transform="translate(501.10,937.00) scale(0.911,1)" font-family="Liberation Sans, sans-serif" font-size="10.0" fill="#000">4 Feb 00:00</text>
<text transform="translate(565.10,937.00) scale(0.911,1)" font-family="Liberation Sans, sans-serif" font-size="10.0" fill="#000">7 Feb 08:00</text>
<text transform="translate(629.10,937.00) scale(0.911,1)" font-family="Liberation Sans, sans-serif" font-size="10.0" fill="#000">8 Feb 16:00</text>
<text transform="translate(693.10,937.00) scale(0.911,1)" font-family="Liberation Sans, sans-serif" font-size="10.0" fill="#000">10 Feb 00:00</text>
<text transform="translate(757.10,937.00) scale(0.911,1)" font-family="Liberation Sans, sans-serif" font-size="10.0" fill="#000">11 Feb 08:00</text>
<text transform="translate(821.10,937.00) scale(0.911,1)" font-family="Liberation Sans, sans-serif" font-size="10.0" fill="#000">14 Feb 16:00</text>
<text transform="translate(885.10,937.00) scale(0.911,1)" font-family="Liberation Sans, sans-serif" font-size="10.0" fill="#000">16 Feb 00:00</text>
<text transform="translate(949.10,937.00) scale(0.911,1)" font-family="Liberation Sans, sans-serif" font-size="10.0" fill="#000">17 Feb 08:00</text>
<text transform="translate(1013.10,937.00) scale(0.911,1)" font-family="Liberation Sans, sans-serif" font-size="10.0" fill="#000">18 Feb 16:00</text>
<text transform="translate(1077.10,937.00) scale(0.911,1)" font-family="Liberation Sans, sans-serif" font-size="10.0" fill="#000">22 Feb 00:00</text>
<text transform="translate(1141.10,937.00) scale(0.911,1)" font-family="Liberation Sans, sans-serif" font-size="10.0" fill="#000">23 Feb 08:00</text>
<text transform="translate(1205.10,937.00) scale(0.911,1)" font-family="Liberation Sans, sans-serif" font-size="10.0" fill="#000">24 Feb 16:00</text>
<text transform="translate(1269.10,937.00) scale(0.911,1)" font-family="Liberation Sans, sans-serif" font-size="10.0" fill="#000">28 Feb 00:00</text>
<text transform="translate(1333.10,937.00) scale(0.911,1)" font-family="Liberation Sans, sans-serif" font-size="10.0" fill="#000">1 Mar 08:00</text>
<text transform="translate(1397.10,937.00) scale(0.911,1)" font-family="Liberation Sans, sans-serif" font-size="10.0" fill="#000">2 Mar 16:00</text>
<g shape-rendering="crispEdges" fill="#c0c0c0">
<rect x="6" y="645" width="1" height="36"/>
<rect x="14" y="645" width="1" height="40"/>
<rect x="22" y="645" width="1" height="50"/>
<rect x="30" y="645" width="1" height="56"/>
<rect x="38" y="645" width="1" height="64"/>
<rect x="46" y="645" width="1" height="72"/>
<rect x="54" y="645" width="1" height="78"/>
<rect x="62" y="645" width="1" height="79"/>
<rect x="70" y="645" width="1" height="78"/>
<rect x="78" y="645" width="1" height="80"/>
<rect x="86" y="645" width="1" height="87"/>
<rect x="94" y="645" width="1" height="92"/>
<rect x="102" y="645" width="1" height="96"/>
<rect x="110" y="645" width="1" height="93"/>
<rect x="118" y="645" width="1" height="94"/>
<rect x="126" y="645" width="1" height="92"/>
<rect x="134" y="645" width="1" height="92"/>
<rect x="142" y="645" width="1" height="88"/>
<rect x="150" y="645" width="1" height="79"/>
<rect x="158" y="645" width="1" height="73"/>
<rect x="166" y="645" width="1" height="68"/>
<rect x="174" y="645" width="1" height="62"/>
<rect x="182" y="645" width="1" height="52"/>
<rect x="190" y="645" width="1" height="42"/>
<rect x="198" y="645" width="1" height="37"/>
<rect x="206" y="645" width="1" height="29"/>
<rect x="214" y="645" width="1" height="27"/>
<rect x="222" y="645" width="1" height="27"/>
<rect x="230" y="645" width="1" height="23"/>
<rect x="238" y="645" width="1" height="16"/>
<rect x="246" y="645" width="1" height="15"/>
<rect x="254" y="645" width="1" height="10"/>
<rect x="262" y="645" width="1" height="6"/>
<rect x="270" y="644" width="1" height="2"/>
<rect x="278" y="639" width="1" height="7"/>
<rect x="286" y="638" width="1" height="8"/>
<rect x="294" y="641" width="1" height="5"/>
<rect x="302" y="641" width="1" height="5"/>
<rect x="310" y="635" width="1" height="11"/>
<rect x="318" y="629" width="1" height="17"/>
<rect x="326" y="628" width="1" height="18"/>
<rect x="334" y="629" width="1" height="17"/>
<rect x="342" y="630" width="1" height="16"/>
<rect x="350" y="629" width="1" height="17"/>
<rect x="358" y="632" width="1" height="14"/>
<rect x="366" y="630" width="1" height="16"/>
<rect x="374" y="630" width="1" height="16"/>
<rect x="382" y="628" width="1" height="18"/>
<rect x="390" y="626" width="1" height="20"/>
<rect x="398" y="623" width="1" height="23"/>
<rect x="406" y="621" width="1" height="25"/>
<rect x="414" y="620" width="1" height="26"/>
<rect x="422" y="620" width="1" height="26"/>
<rect x="430" y="620" width="1" height="26"/>
<rect x="438" y="618" width="1" height="28"/>
<rect x="446" y="618" width="1" height="28"/>
<rect x="454" y="620" width="1" height="26"/>
<rect x="462" y="618" width="1" height="28"/>
<rect x="470" y="613" width="1" height="33"/>
<rect x="478" y="602" width="1" height="44"/>
<rect x="486" y="596" width="1" height="50"/>
<rect x="494" y="591" width="1" height="55"/>
<rect x="502" y="586" width="1" height="60"/>
<rect x="510" y="584" width="1" height="62"/>
<rect x="518" y="588" width="1" height="58"/>
<rect x="526" y="591" width="1" height="55"/>
<rect x="534" y="595" width="1" height="51"/>
<rect x="542" y="598" width="1" height="48"/>
<rect x="550" y="601" width="1" height="45"/>
<rect x="558" y="602" width="1" height="44"/>
<rect x="566" y="613" width="1" height="33"/>
<rect x="574" y="617" width="1" height="29"/>
<rect x="582" y="619" width="1" height="27"/>
<rect x="590" y="622" width="1" height="24"/>
<rect x="598" y="620" width="1" height="26"/>
<rect x="606" y="618" width="1" height="28"/>
<rect x="614" y="617" width="1" height="29"/>
<rect x="622" y="611" width="1" height="35"/>
<rect x="630" y="608" width="1" height="38"/>
<rect x="638" y="607" width="1" height="39"/>
<rect x="646" y="606" width="1" height="40"/>
<rect x="654" y="607" width="1" height="39"/>
<rect x="662" y="605" width="1" height="41"/>
<rect x="670" y="607" width="1" height="39"/>
<rect x="678" y="610" width="1" height="36"/>
<rect x="686" y="612" width="1" height="34"/>
<rect x="694" y="614" width="1" height="32"/>
<rect x="702" y="614" width="1" height="32"/>
<rect x="710" y="609" width="1" height="37"/>
<rect x="718" y="595" width="1" height="51"/>
<rect x="726" y="591" width="1" height="55"/>
<rect x="734" y="590" width="1" height="56"/>
<rect x="742" y="590" width="1" height="56"/>
<rect x="750" y="594" width="1" height="52"/>
<rect x="758" y="593" width="1" height="53"/>
<rect x="766" y="590" width="1" height="56"/>
<rect x="774" y="605" width="1" height="41"/>
<rect x="782" y="609" width="1" height="37"/>
<rect x="790" y="619" width="1" height="27"/>
<rect x="798" y="628" width="1" height="18"/>
<rect x="806" y="642" width="1" height="4"/>
<rect x="814" y="645" width="1" height="1"/>
<rect x="822" y="645" width="1" height="2"/>
<rect x="830" y="645" width="1" height="4"/>
<rect x="838" y="645" width="1" height="6"/>
<rect x="846" y="645" width="1" height="10"/>
<rect x="854" y="645" width="1" height="8"/>
<rect x="862" y="645" width="1" height="7"/>
<rect x="870" y="645" width="1" height="4"/>
<rect x="878" y="645" width="1" height="2"/>
<rect x="886" y="645" width="1" height="1"/>
<rect x="894" y="643" width="1" height="3"/>
<rect x="902" y="640" width="1" height="6"/>
<rect x="910" y="638" width="1" height="8"/>
<rect x="918" y="635" width="1" height="11"/>
<rect x="926" y="635" width="1" height="11"/>
<rect x="934" y="642" width="1" height="4"/>
<rect x="942" y="640" width="1" height="6"/>
<rect x="950" y="641" width="1" height="5"/>
<rect x="958" y="643" width="1" height="3"/>
<rect x="966" y="643" width="1" height="3"/>
<rect x="974" y="645" width="1" height="1"/>
<rect x="982" y="644" width="1" height="2"/>
<rect x="990" y="642" width="1" height="4"/>
<rect x="998" y="641" width="1" height="5"/>
<rect x="1006" y="643" width="1" height="3"/>
<rect x="1014" y="644" width="1" height="2"/>
<rect x="1022" y="645" width="1" height="2"/>
<rect x="1030" y="645" width="1" height="2"/>
<rect x="1038" y="644" width="1" height="2"/>
<rect x="1046" y="645" width="1" height="2"/>
<rect x="1054" y="645" width="1" height="6"/>
<rect x="1062" y="645" width="1" height="10"/>
<rect x="1070" y="645" width="1" height="17"/>
<rect x="1078" y="645" width="1" height="23"/>
<rect x="1086" y="645" width="1" height="28"/>
<rect x="1094" y="645" width="1" height="28"/>
<rect x="1102" y="645" width="1" height="24"/>
<rect x="1110" y="645" width="1" height="19"/>
<rect x="1118" y="645" width="1" height="16"/>
<rect x="1126" y="645" width="1" height="12"/>
<rect x="1134" y="645" width="1" height="8"/>
<rect x="1142" y="645" width="1" height="7"/>
<rect x="1150" y="645" width="1" height="10"/>
<rect x="1158" y="645" width="1" height="17"/>
<rect x="1166" y="645" width="1" height="22"/>
<rect x="1174" y="645" width="1" height="32"/>
<rect x="1182" y="645" width="1" height="47"/>
<rect x="1190" y="645" width="1" height="66"/>
<rect x="1198" y="645" width="1" height="84"/>
<rect x="1206" y="645" width="1" height="80"/>
<rect x="1214" y="645" width="1" height="80"/>
<rect x="1222" y="645" width="1" height="79"/>
<rect x="1230" y="645" width="1" height="76"/>
<rect x="1238" y="645" width="1" height="74"/>
<rect x="1246" y="645" width="1" height="66"/>
<rect x="1254" y="645" width="1" height="60"/>
<rect x="1262" y="645" width="1" height="58"/>
<rect x="1270" y="645" width="1" height="59"/>
<rect x="1278" y="645" width="1" height="60"/>
<rect x="1286" y="645" width="1" height="56"/>
<rect x="1294" y="645" width="1" height="54"/>
<rect x="1302" y="645" width="1" height="57"/>
<rect x="1310" y="645" width="1" height="55"/>
<rect x="1318" y="645" width="1" height="52"/>
<rect x="1326" y="645" width="1" height="50"/>
<rect x="1334" y="645" width="1" height="54"/>
<rect x="1342" y="645" width="1" height="63"/>
<rect x="1350" y="645" width="1" height="74"/>
<rect x="1358" y="645" width="1" height="79"/>
<rect x="1366" y="645" width="1" height="80"/>
<rect x="1374" y="645" width="1" height="84"/>
<rect x="1382" y="645" width="1" height="77"/>
<rect x="1390" y="645" width="1" height="68"/>
<rect x="1398" y="645" width="1" height="56"/>
<rect x="1406" y="645" width="1" height="40"/>
</g>
<polyline points="0.5,679.2 10.5,679.2 15.5,680.0 23.0,682.0 33.0,684.2 40.5,687.0 48.0,691.2 55.5,697.0 63.0,702.5 70.5,706.8 78.0,711.2 85.5,715.8 93.0,720.0 100.5,725.0 108.0,727.5 115.5,730.8 123.0,732.5 130.5,734.2 138.0,735.5 145.5,735.8 153.0,735.5 160.5,733.8 168.0,730.0 175.5,728.0 183.0,723.0 190.5,717.5 198.0,711.2 205.5,704.5 213.0,698.2 220.5,692.5 228.0,687.0 235.5,681.8 243.0,676.8 250.5,672.5 258.0,668.0 265.5,663.8 273.0,660.0 280.5,656.2 288.0,653.0 295.5,650.8 303.0,648.0 310.5,645.0 318.0,643.2 325.5,640.0 335.5,635.5 343.0,633.8 350.5,633.0 358.0,633.0 365.5,631.2 373.0,630.0 380.5,629.5 390.5,629.0 400.5,628.8 410.5,627.5 424.5,625.0 434.5,623.2 444.5,622.0 454.5,620.8 464.5,619.5 472.0,618.2 479.5,615.8 489.5,612.5 497.0,609.5 504.5,605.8 512.0,602.5 519.5,600.0 527.0,596.8 534.5,594.5 542.0,592.0 549.5,591.8 557.0,592.5 567.0,595.0 574.5,598.2 582.0,602.5 589.5,604.5 597.0,608.8 604.5,611.2 612.0,613.2 622.0,615.0 629.5,616.2 637.0,615.0 647.0,613.8 657.0,612.0 664.5,610.8 674.5,609.5 684.5,608.2 694.5,609.0 704.5,609.0 714.5,608.8 722.0,607.5 729.5,605.5 737.0,603.8 744.5,602.5 752.0,600.5 759.5,599.2 767.0,595.5 774.5,595.0 783.2,595.0 789.5,597.5 797.0,600.5 804.5,606.2 812.0,611.2 819.5,617.5 827.0,622.5 834.5,629.5 842.0,635.5 848.5,639.5 856.0,644.5 863.5,648.0 873.5,650.0 883.5,650.8 896.0,650.0 906.0,647.5 916.0,645.5 926.0,643.2 936.0,641.8 946.0,640.8 956.0,639.2 968.5,639.0 978.5,640.0 988.5,641.2 998.5,641.8 1008.5,641.8 1018.5,643.2 1028.5,644.0 1038.5,645.0 1048.5,645.5 1058.5,646.2 1068.5,648.0 1076.0,651.2 1083.5,655.0 1091.0,657.5 1098.5,659.5 1108.5,662.0 1118.5,663.8 1128.5,665.0 1138.5,664.5 1148.5,662.0 1158.5,661.2 1166.0,660.0 1173.5,660.5 1181.0,663.0 1188.5,668.8 1198.5,677.5 1208.5,687.5 1218.5,697.5 1228.5,706.2 1238.5,713.8 1248.5,718.2 1256.0,719.2 1263.5,717.5 1272.5,715.8 1280.0,713.0 1287.5,710.0 1295.0,707.5 1302.5,705.0 1312.5,703.0 1322.5,701.2 1332.5,701.0 1342.5,701.0 1350.0,701.8 1357.5,703.8 1365.0,707.5 1372.5,710.0 1380.0,711.8 1387.5,714.5 1397.5,715.8 1403.8,715.2" fill="none" stroke="#ff0000" stroke-width="1" stroke-dasharray="3,3" shape-rendering="crispEdges"/>
<text x="-5.6" y="587" font-family="Liberation Sans, sans-serif" font-size="10.0" fill="#000" textLength="133.5" lengthAdjust="spacingAndGlyphs">MACD(12,26,9) -0.2657 -0.4721</text>
<g shape-rendering="crispEdges">
<line x1="3" y1="786.5" x2="1649" y2="786.5" stroke="#c0c0c0" stroke-width="1" stroke-dasharray="3,3"/>
<line x1="3" y1="837.5" x2="1649" y2="837.5" stroke="#c0c0c0" stroke-width="1" stroke-dasharray="3,3"/>
<line x1="3" y1="898.5" x2="1649" y2="898.5" stroke="#c0c0c0" stroke-width="1" stroke-dasharray="3,3"/>
</g>
<polyline points="0.5,850.5 7.0,854.8 15.0,864.2 23.0,870.5 31.0,871.8 39.0,875.5 47.0,879.8 55.0,879.8 63.0,872.8 71.0,867.8 79.0,874.2 87.0,881.8 95.0,884.0 103.0,882.8 111.0,867.8 119.0,876.0 127.0,866.5 135.0,871.0 143.0,859.2 151.0,848.8 159.0,851.8 167.0,853.0 175.0,849.8 183.0,837.8 191.0,833.5 199.0,839.8 207.0,832.8 215.0,844.8 223.0,848.0 231.0,839.8 239.0,830.5 247.0,839.8 255.0,834.8 263.0,830.5 271.0,826.0 279.0,824.8 287.0,834.8 295.0,842.8 303.0,836.0 311.0,824.8 319.0,821.5 327.0,829.8 335.0,834.8 343.0,831.8 351.0,831.8 359.0,837.2 367.0,829.0 375.0,835.5 383.0,826.8 391.0,826.8 399.0,823.5 407.0,823.5 415.0,824.8 423.0,826.8 431.0,824.8 439.0,818.0 447.0,828.0 455.0,826.0 463.0,821.5 471.0,811.0 479.0,799.0 487.0,806.0 495.0,803.5 503.0,802.8 511.0,804.8 519.0,823.0 527.0,821.8 535.0,823.0 543.0,823.0 551.0,823.0 559.0,818.0 567.0,846.8 575.0,836.0 583.0,833.0 591.0,833.0 599.0,823.0 607.0,821.8 615.0,821.0 623.0,809.8 631.0,818.0 639.0,816.5 647.0,818.0 655.0,821.0 663.0,813.0 671.0,825.5 679.0,829.8 687.0,825.5 695.0,829.0 703.0,821.8 711.0,807.2 719.0,796.8 727.0,814.8 735.0,818.0 743.0,818.0 751.0,824.8 759.0,817.2 767.0,813.0 775.0,847.8 783.0,835.2 791.0,843.5 799.0,844.8 807.0,854.8 815.0,844.2 823.0,841.0 831.0,841.0 839.0,842.8 847.0,846.0 855.0,835.5 863.0,837.8 871.0,836.8 879.0,835.5 887.0,833.5 895.0,830.5 903.0,829.8 911.0,831.8 919.0,826.8 927.0,833.5 935.0,847.8 943.0,833.5 951.0,837.8 959.0,837.8 967.0,839.8 975.0,843.5 983.0,834.2 991.0,830.5 999.0,831.5 1007.0,843.5 1015.0,839.8 1023.0,847.8 1031.0,839.0 1039.0,835.5 1047.0,842.2 1055.0,846.5 1063.0,850.2 1071.0,858.5 1079.0,861.0 1087.0,861.8 1095.0,849.8 1103.0,836.8 1111.0,835.5 1119.0,835.5 1127.0,837.2 1135.0,829.8 1143.0,837.8 1151.0,849.2 1159.0,858.5 1167.0,858.5 1175.0,871.5 1183.0,879.8 1191.0,887.8 1199.0,891.0 1207.0,853.5 1215.0,857.8 1223.0,854.0 1231.0,854.0 1239.0,856.0 1247.0,844.8 1255.0,844.8 1263.0,853.5 1271.0,859.2 1279.0,854.8 1287.0,845.5 1295.0,849.2 1303.0,857.8 1311.0,848.5 1319.0,849.8 1327.0,848.5 1335.0,857.8 1343.0,867.2 1351.0,871.0 1359.0,866.0 1367.0,863.5 1375.0,865.5 1383.0,851.0 1391.0,845.5 1399.0,831.0 1407.0,828.0" fill="none" stroke="#1E90FF" stroke-width="1" shape-rendering="crispEdges"/>
<text x="-6.1" y="763" font-family="Liberation Sans, sans-serif" font-size="10.0" fill="#000" textLength="67.8" lengthAdjust="spacingAndGlyphs">RSI(14) 56.5583</text>
<text x="5" y="35" font-family="Liberation Sans, sans-serif" font-size="10.0" fill="#000" textLength="201" lengthAdjust="spacingAndGlyphs" style="white-space:pre">GBPJPY-,H4  154.571 154.907 154.496 154.838</text>
<polygon points="1410.5,24 1421.5,24 1416,29" fill="#c0c0c0"/>
<rect x="1695" y="24" width="1" height="917" fill="#e3e3e3"/>
<defs>
<linearGradient id="gb" x1="0" y1="0" x2="0" y2="1"><stop offset="0" stop-color="#5454fa"/><stop offset="1" stop-color="#3636e2"/></linearGradient>
<linearGradient id="gp" x1="0" y1="0" x2="0" y2="1"><stop offset="0" stop-color="#2e2ed8"/><stop offset="1" stop-color="#0606a8"/></linearGradient>
<linearGradient id="gs" x1="0" y1="0" x2="0" y2="1"><stop offset="0" stop-color="#f4f4f4"/><stop offset="0.5" stop-color="#dcdcdc"/><stop offset="1" stop-color="#c8c8c8"/></linearGradient>
<linearGradient id="gpu" gradientUnits="userSpaceOnUse" x1="0" y1="67" x2="0" y2="100"><stop offset="0" stop-color="#2e2ed8"/><stop offset="1" stop-color="#0606a8"/></linearGradient>
</defs>
<g shape-rendering="crispEdges">
<rect x="0" y="0" width="1696" height="19" fill="#f0f0f0"/>
<rect x="0" y="19" width="1696" height="1" fill="#b4b4b4"/>
<rect x="0" y="20" width="1696" height="1" fill="#6e6e6e"/>
<rect x="0" y="21" width="1696" height="2" fill="#fff"/>
<rect x="0" y="23" width="1650" height="1" fill="#000"/>
<rect x="1695" y="21" width="1" height="3" fill="#e3e3e3"/>
<rect x="10" y="0" width="1" height="18" fill="#a0a0a0"/>
<rect x="11" y="0" width="1" height="18" fill="#fafafa"/>
<rect x="299" y="0" width="1" height="18" fill="#a0a0a0"/>
<rect x="300" y="0" width="1" height="18" fill="#fafafa"/>
<rect x="394" y="0" width="1" height="18" fill="#a0a0a0"/>
<rect x="395" y="0" width="1" height="18" fill="#fafafa"/>
<rect x="484" y="0" width="1" height="18" fill="#a0a0a0"/>
<rect x="485" y="0" width="1" height="18" fill="#fafafa"/>
<rect x="489" y="0" width="1" height="18" fill="#a0a0a0"/>
<rect x="490" y="0" width="1" height="18" fill="#fafafa"/>
<rect x="517" y="0" width="1" height="18" fill="#a0a0a0"/>
<rect x="518" y="0" width="1" height="18" fill="#fafafa"/>
<rect x="546" y="0" width="1" height="18" fill="#a0a0a0"/>
<rect x="547" y="0" width="1" height="18" fill="#fafafa"/>
<rect x="667" y="0" width="1" height="18" fill="#a0a0a0"/>
<rect x="668" y="0" width="1" height="18" fill="#fafafa"/>
<rect x="677" y="0" width="1" height="18" fill="#a0a0a0"/>
<rect x="678" y="0" width="1" height="18" fill="#fafafa"/>
<rect x="734" y="0" width="1" height="18" fill="#a0a0a0"/>
<rect x="735" y="0" width="1" height="18" fill="#fafafa"/>
<rect x="973" y="0" width="1" height="18" fill="#a0a0a0"/>
<rect x="974" y="0" width="1" height="18" fill="#fafafa"/>
<rect x="1123" y="0" width="1" height="18" fill="#a0a0a0"/>
<rect x="1124" y="0" width="1" height="18" fill="#fafafa"/>
<rect x="1234" y="0" width="1" height="18" fill="#a0a0a0"/>
<rect x="1235" y="0" width="1" height="18" fill="#fafafa"/>
<rect x="303" y="1" width="3" height="1" fill="#b0b0b0"/>
<rect x="303" y="3" width="3" height="1" fill="#b0b0b0"/>
<rect x="303" y="5" width="3" height="1" fill="#b0b0b0"/>
<rect x="303" y="7" width="3" height="1" fill="#b0b0b0"/>
<rect x="303" y="9" width="3" height="1" fill="#b0b0b0"/>
<rect x="303" y="11" width="3" height="1" fill="#b0b0b0"/>
<rect x="303" y="13" width="3" height="1" fill="#b0b0b0"/>
<rect x="303" y="15" width="3" height="1" fill="#b0b0b0"/>
<rect x="671" y="1" width="3" height="1" fill="#b0b0b0"/>
<rect x="671" y="3" width="3" height="1" fill="#b0b0b0"/>
<rect x="671" y="5" width="3" height="1" fill="#b0b0b0"/>
<rect x="671" y="7" width="3" height="1" fill="#b0b0b0"/>
<rect x="671" y="9" width="3" height="1" fill="#b0b0b0"/>
<rect x="671" y="11" width="3" height="1" fill="#b0b0b0"/>
<rect x="671" y="13" width="3" height="1" fill="#b0b0b0"/>
<rect x="671" y="15" width="3" height="1" fill="#b0b0b0"/>
<rect x="976" y="1" width="3" height="1" fill="#b0b0b0"/>
<rect x="976" y="3" width="3" height="1" fill="#b0b0b0"/>
<rect x="976" y="5" width="3" height="1" fill="#b0b0b0"/>
<rect x="976" y="7" width="3" height="1" fill="#b0b0b0"/>
<rect x="976" y="9" width="3" height="1" fill="#b0b0b0"/>
<rect x="976" y="11" width="3" height="1" fill="#b0b0b0"/>
<rect x="976" y="13" width="3" height="1" fill="#b0b0b0"/>
<rect x="976" y="15" width="3" height="1" fill="#b0b0b0"/>
<rect x="338" y="0" width="24" height="17" fill="#f8f8f8"/>
<rect x="491" y="0" width="23" height="17" fill="#f8f8f8"/>
<rect x="519" y="0" width="24" height="17" fill="#f8f8f8"/>
<rect x="679" y="0" width="23" height="17" fill="#f8f8f8"/>
<rect x="1125" y="0" width="24" height="17" fill="#f8f8f8"/>
</g>
<text x="39.5" y="10" font-family="Liberation Sans, sans-serif" font-size="13" fill="#111" textLength="64" lengthAdjust="spacing">New Order</text>
<text x="220.5" y="10" font-family="Liberation Sans, sans-serif" font-size="13" fill="#111" textLength="71" lengthAdjust="spacing">AutoTrading</text>
<text x="988.5" y="11.3" font-family="Liberation Sans, sans-serif" font-size="10" fill="#444" textLength="12.5" lengthAdjust="spacingAndGlyphs">M1</text>
<text x="1016.5" y="11.3" font-family="Liberation Sans, sans-serif" font-size="10" fill="#444" textLength="12.0" lengthAdjust="spacingAndGlyphs">M5</text>
<text x="1043.0" y="11.3" font-family="Liberation Sans, sans-serif" font-size="10" fill="#444" textLength="17.5" lengthAdjust="spacingAndGlyphs">M15</text>
<text x="1070.5" y="11.3" font-family="Liberation Sans, sans-serif" font-size="10" fill="#444" textLength="18.0" lengthAdjust="spacingAndGlyphs">M30</text>
<text x="1101.5" y="11.3" font-family="Liberation Sans, sans-serif" font-size="10" fill="#444" textLength="11.5" lengthAdjust="spacingAndGlyphs">H1</text>
<text x="1128.5" y="11.3" font-family="Liberation Sans, sans-serif" font-size="10" fill="#444" textLength="12.0" lengthAdjust="spacingAndGlyphs">H4</text>
<text x="1157.5" y="11.3" font-family="Liberation Sans, sans-serif" font-size="10" fill="#444" textLength="12.0" lengthAdjust="spacingAndGlyphs">D1</text>
<text x="1185.5" y="11.3" font-family="Liberation Sans, sans-serif" font-size="10" fill="#444" textLength="14.0" lengthAdjust="spacingAndGlyphs">W1</text>
<text x="1211.5" y="11.3" font-family="Liberation Sans, sans-serif" font-size="10" fill="#444" textLength="14.5" lengthAdjust="spacingAndGlyphs">MN</text>
<polygon points="0,12 3,15 0,17" fill="#e0a020"/>
<path d="M21.5,0 h8 l3,3 v9 h-11z" fill="#fff" stroke="#888" stroke-width="1"/>
<path d="M23.5,4h6M23.5,7h4" stroke="#999" stroke-width="1"/>
<path d="M30.300,5.500v11.500M24.500,11.200h11.500" stroke="#0a8a0a" stroke-width="4.200"/>
<path d="M30.300,6.500v9.500M25.500,11.200h9.500" stroke="#22cc22" stroke-width="2.200"/>
<defs><linearGradient id="gold" x1="0" y1="0" x2="1" y2="1"><stop offset="0" stop-color="#c89018"/><stop offset="0.45" stop-color="#f8dc48"/><stop offset="1" stop-color="#c08810"/></linearGradient>
<linearGradient id="cloud" x1="0" y1="0" x2="0" y2="1"><stop offset="0" stop-color="#ffffff"/><stop offset="1" stop-color="#c4cee2"/></linearGradient>
<linearGradient id="hat" x1="0" y1="0" x2="0" y2="1"><stop offset="0" stop-color="#7cc0f0"/><stop offset="1" stop-color="#3a88d0"/></linearGradient>
<linearGradient id="fun" x1="0" y1="0" x2="0" y2="1"><stop offset="0" stop-color="#f8e060"/><stop offset="1" stop-color="#e8a818"/></linearGradient></defs>
<polygon points="120.500,0 131.800,8.500 124,15 116,9.300" fill="#a87010"/>
<polygon points="120.500,-1 131.300,7.300 123.700,13.500 116,8.200" fill="url(#gold)" stroke="#b07808" stroke-width="0.800"/>
<path d="M124,14.300 L131.500,8.200" stroke="#f4e8c0" stroke-width="0.900"/>
<polygon points="146.500,0 151,0 151,8 146.500,7" fill="#2e90f4"/>
<polygon points="151,0 157,0 157,7.500 151,8" fill="#1a6ad8"/>
<path d="M152.300,2.500h3.500M152.300,4.800h3.500" stroke="#e8f2ff" stroke-width="1"/>
<path d="M146.500,14.300 a3,3 0 0 1 0.500,-5.600 a3.600,3.600 0 0 1 6.200,-1.200 a3,3 0 0 1 4.300,2 a2.600,2.600 0 0 1 0,4.800z" fill="url(#cloud)" stroke="#4a6aa8" stroke-width="0.900"/>
<circle cx="180" cy="6.700" r="7.500" fill="none" stroke="#8aa8e8" stroke-width="1.100"/>
<circle cx="180" cy="6.700" r="4.800" fill="none" stroke="#4a78dc" stroke-width="1.200"/>
<path d="M180,6.700 L183.500,-0.500 A8,8 0 0 1 180,14.700z" fill="#a8d0a8" opacity="0.800"/>
<path d="M183.200,-0.100 A7.500,7.500 0 0 1 180,14.200" fill="none" stroke="#5aa85a" stroke-width="1.100"/>
<path d="M182,2.300 A4.800,4.800 0 0 1 180,11.500" fill="none" stroke="#6ab06a" stroke-width="1.100"/>
<circle cx="180" cy="6.700" r="1.900" fill="#2a5ad0"/>
<path d="M180.300,7.500v7" stroke="#22aa22" stroke-width="1.500"/>
<polygon points="200.300,5.500 214.300,5.500 208.500,14.300 205.500,14.300" fill="url(#fun)" stroke="#d09818" stroke-width="0.600"/>
<ellipse cx="207.200" cy="3.800" rx="7.800" ry="2.800" fill="url(#hat)" stroke="#3a80c8" stroke-width="0.600"/>
<path d="M204.300,3 q0.500,-4.500 3,-4.500 q2.500,0 3,4.500z" fill="#6ab4ec"/>
<circle cx="211.400" cy="10.600" r="3.900" fill="#e0281c"/>
<rect x="210.100" y="9.300" width="2.700" height="2.700" fill="#fff"/>
<path d="M317.5,1v13.5M315.5,12.5h13" stroke="#555" stroke-width="1" shape-rendering="crispEdges"/>
<polygon points="317,0 316,3 319,3" fill="#555"/>
<polygon points="329,12.5 326,11 326,14" fill="#555"/>
<path d="M322.5,9.500h2v-7h2" stroke="#1a9a1a" stroke-width="1.6" fill="none"/>
<path d="M345.5,1v13.5M343.5,12.5h13" stroke="#555" stroke-width="1" shape-rendering="crispEdges"/>
<polygon points="345,0 344,3 347,3" fill="#555"/>
<polygon points="357,12.5 354,11 354,14" fill="#555"/>
<rect x="349" y="1" width="4" height="8" fill="#22cc22" stroke="#0a7a0a" stroke-width="1"/>
<path d="M351,0v1M351,9v2.500" stroke="#0a7a0a"/>
<path d="M373.5,1v13.5M371.5,12.5h13" stroke="#555" stroke-width="1" shape-rendering="crispEdges"/>
<polygon points="373,0 372,3 375,3" fill="#555"/>
<polygon points="385,12.5 382,11 382,14" fill="#555"/>
<path d="M372.500,9.500 l4,-5.500 l7,5" stroke="#1a9a1a" stroke-width="1.3" fill="none"/>
<circle cx="409.0" cy="4.800" r="5.500" fill="#d8ecff" stroke="#3a7ad0" stroke-width="1.5"/>
<path d="M413.3,9.300 l4.800,4.800" stroke="#d0a030" stroke-width="2.600" stroke-linecap="round"/>
<path d="M406.0,4.800h6" stroke="#4a7ab8" stroke-width="1.800"/>
<path d="M409.0,1.800v6" stroke="#4a7ab8" stroke-width="1.800"/>
<circle cx="437.0" cy="4.800" r="5.500" fill="#d8ecff" stroke="#3a7ad0" stroke-width="1.5"/>
<path d="M441.3,9.300 l4.800,4.800" stroke="#d0a030" stroke-width="2.600" stroke-linecap="round"/>
<path d="M434.0,4.800h6" stroke="#4a7ab8" stroke-width="1.800"/>
<rect x="459" y="-1" width="8" height="8" fill="#3f9f2a"/>
<rect x="460" y="2" width="6" height="3.500" fill="#fff" opacity="0.9"/>
<rect x="461" y="3.5" width="4" height="1" fill="#3f9f2a" opacity="0.7"/>
<rect x="467" y="-1" width="8" height="8" fill="#2c5fd4"/>
<rect x="468" y="2" width="6" height="3.500" fill="#fff" opacity="0.9"/>
<rect x="469" y="3.5" width="4" height="1" fill="#2c5fd4" opacity="0.7"/>
<rect x="459" y="7" width="8" height="8" fill="#2c5fd4"/>
<rect x="460" y="10" width="6" height="3.500" fill="#fff" opacity="0.9"/>
<rect x="461" y="11.5" width="4" height="1" fill="#2c5fd4" opacity="0.7"/>
<rect x="467" y="7" width="8" height="8" fill="#3f9f2a"/>
<rect x="468" y="10" width="6" height="3.500" fill="#fff" opacity="0.9"/>
<rect x="469" y="11.5" width="4" height="1" fill="#3f9f2a" opacity="0.7"/>
<path d="M497.5,1v13.5M495.5,12.5h13" stroke="#555" stroke-width="1" shape-rendering="crispEdges"/>
<polygon points="497,0 496,3 499,3" fill="#555"/>
<polygon points="509,12.5 506,11 506,14" fill="#555"/>
<polygon points="503,3 503,9 508,6" fill="#22aa22"/>
<path d="M525.5,1v13.5M523.5,12.5h13" stroke="#555" stroke-width="1" shape-rendering="crispEdges"/>
<polygon points="525,0 524,3 527,3" fill="#555"/>
<polygon points="537,12.5 534,11 534,14" fill="#555"/>
<path d="M531.500,1v10" stroke="#2a7ab0" stroke-width="1.300"/>
<path d="M538,6h-5l2,-2m-2,2l2,2" stroke="#d04020" stroke-width="1.200" fill="none"/>
<path d="M556.500,-0.500 h8 l3,3 v9.500 h-11z" fill="#fff" stroke="#909090"/>
<path d="M559.500,8v-4.500q0,-1.500 2,-1.500M558.500,5h3" fill="none" stroke="#777" stroke-width="0.900"/>
<path d="M566.200,5v11.600M560.400,10.800h11.600" stroke="#0a8a0a" stroke-width="4.400"/>
<path d="M566.200,6v9.600M561.400,10.800h9.600" stroke="#2ad02a" stroke-width="2.400"/>
<polygon points="578.0,6 583.0,6 580.5,9" fill="#000"/>
<circle cx="602" cy="7.300" r="7.800" fill="#1e5ccc"/>
<circle cx="602" cy="7.300" r="5.400" fill="#f4f8ff"/>
<circle cx="602" cy="7.300" r="4.600" fill="none" stroke="#9ab0d0" stroke-width="0.800" stroke-dasharray="0.800,1.600"/>
<path d="M602,3.300v4.300h3.300" stroke="#222" stroke-width="1.100" fill="none"/>
<polygon points="617.5,6 622.5,6 620.0,9" fill="#000"/>
<rect x="634" y="0" width="14.500" height="13.300" fill="#fff" stroke="#2a5ac8" stroke-width="1.300"/>
<rect x="633.400" y="-1" width="15.700" height="3" fill="#3a78dc"/>
<path d="M634,7.800h14.500" stroke="#2a5ac8" stroke-width="0.900"/>
<path d="M636,6 l3,-1.200 l2,-1 l3,1.200 l3,-1.200" stroke="#b03018" stroke-width="1.200" fill="none"/>
<path d="M636,11.500 l3,-1 l2,0.800 l3,-1.800 l2.500,1.500" stroke="#1a9a1a" stroke-width="1.200" fill="none"/>
<polygon points="655.5,6 660.5,6 658.0,9" fill="#000"/>
<polygon points="685.400,-0.500 685.400,10.800 688.300,9 690.600,13.700 692,12.900 689.700,8.300 693.200,7.600" fill="#444"/>
<path d="M717.500,0v15M710,7.500h15" stroke="#444" stroke-width="1" shape-rendering="crispEdges"/>
<rect x="716" y="6" width="3" height="3" fill="#f0f0f0"/>
<rect x="751" y="1" width="1" height="13" fill="#444" shape-rendering="crispEdges"/>
<rect x="774" y="7" width="13" height="1" fill="#444" shape-rendering="crispEdges"/>
<path d="M801.500,13.500 L814,1.500" stroke="#444" stroke-width="1.100"/>
<path d="M829,12 l11,-10 M829,8l11,-10 M833,14l9,-8 M832,2v11 M837,0v10" stroke="#555" stroke-width="0.900"/>
<text x="840" y="16" font-family="Liberation Sans, sans-serif" font-size="7" font-weight="bold" fill="#333">E</text>
<path d="M857,1.500h10" stroke="#555" stroke-dasharray="1,1" shape-rendering="crispEdges"/>
<path d="M857,4.500h10" stroke="#555" stroke-dasharray="1,1" shape-rendering="crispEdges"/>
<path d="M857,7.500h10" stroke="#555" stroke-dasharray="1,1" shape-rendering="crispEdges"/>
<path d="M857,10.500h10" stroke="#555" stroke-dasharray="1,1" shape-rendering="crispEdges"/>
<path d="M857,13.500h10" stroke="#555" stroke-dasharray="1,1" shape-rendering="crispEdges"/>
<text x="867" y="16" font-family="Liberation Sans, sans-serif" font-size="7" font-weight="bold" fill="#333">F</text>
<text x="887.500" y="11.800" font-family="Liberation Sans, sans-serif" font-size="12" font-weight="bold" fill="#6a6a6a">A</text>
<rect x="914.500" y="1.500" width="12" height="12" fill="none" stroke="#555" stroke-dasharray="1,1" shape-rendering="crispEdges"/>
<text x="916.500" y="12" font-family="Liberation Sans, sans-serif" font-size="11" font-weight="bold" fill="#555">T</text>
<path d="M942,4l3,-3l3,3l-3,3z M949,9l3,-3l3,3l-3,3z" fill="#444"/>
<path d="M943,8l3,3l5,-6" stroke="#444" stroke-width="1.300" fill="none"/>
<polygon points="962.0,6 967.0,6 964.5,9" fill="#000"/>
<circle cx="1651.800" cy="4.300" r="3.700" fill="#f4f6ff" stroke="#2a5ad8" stroke-width="1.300"/>
<path d="M1648.600,7.600 l-4.200,4.100" stroke="#2a5ad8" stroke-width="2.300" stroke-linecap="round"/>
<defs><linearGradient id="badge" x1="0" y1="0" x2="0" y2="1"><stop offset="0" stop-color="#ea5636"/><stop offset="1" stop-color="#d01406"/></linearGradient>
<linearGradient id="bub" x1="0" y1="0" x2="0" y2="1"><stop offset="0" stop-color="#fafafa"/><stop offset="1" stop-color="#d4d4e0"/></linearGradient></defs>
<ellipse cx="1674.300" cy="8.900" rx="6" ry="4.700" fill="url(#bub)" stroke="#b4b4b4" stroke-width="0.900"/>
<polygon points="1670.700,12.300 1670.900,15.800 1673.500,13.100" fill="#c8c8d0"/>
<circle cx="1682.600" cy="5.200" r="8.400" fill="url(#badge)"/>
<text x="1681.700" y="9" font-family="Liberation Serif, serif" font-size="13.500" font-weight="bold" fill="#fff" text-anchor="middle">1</text>
<g shape-rendering="crispEdges">
<rect x="0" y="43" width="45" height="25" fill="url(#gb)"/>
<rect x="160" y="43" width="52" height="25" fill="url(#gb)"/>
<rect x="0" y="67" width="102" height="33" fill="url(#gp)"/>
<rect x="104" y="67" width="108" height="33" fill="url(#gp)"/>
<rect x="0" y="66" width="45" height="1" fill="#1414a8"/>
<rect x="160" y="66" width="52" height="1" fill="#1414a8"/>
<rect x="0" y="43" width="45" height="1" fill="#2a2ac8"/>
<rect x="160" y="43" width="52" height="1" fill="#2a2ac8"/>
<rect x="44" y="43" width="1" height="24" fill="#2a2ac8"/>
<rect x="160" y="43" width="1" height="24" fill="#2a2ac8"/>
<rect x="211" y="43" width="1" height="57" fill="#1c1cb4"/>
<rect x="0" y="99" width="102" height="1" fill="#0a0a90"/>
<rect x="104" y="99" width="108" height="1" fill="#0a0a90"/>
<rect x="0" y="67" width="41" height="1" fill="#7070f0"/>
<rect x="164" y="67" width="44" height="1" fill="#7070f0"/>
<rect x="45" y="43" width="115" height="24" fill="#fff"/>
<rect x="47.500" y="43.500" width="111" height="21" fill="#f0f0f0" stroke="#ababab"/>
<rect x="48.500" y="44.500" width="19" height="19" fill="url(#gs)" stroke="#b8b8b8"/>
<rect x="137.500" y="44.500" width="19" height="19" fill="url(#gs)" stroke="#b8b8b8"/>
<rect x="69" y="45" width="67" height="19" fill="#fff"/>
</g>
<polygon points="55,52 61,52 58,55.500" fill="#4a5a9a"/>
<polygon points="144,55 150,55 147,51.500" fill="#4a5a9a"/>
<text x="4.800" y="59" font-family="Liberation Sans, sans-serif" font-size="12.500" fill="#fff" textLength="27.500" lengthAdjust="spacingAndGlyphs">SELL</text>
<text x="173.200" y="59" font-family="Liberation Sans, sans-serif" font-size="12.500" fill="#fff" textLength="25" lengthAdjust="spacingAndGlyphs">BUY</text>
<text x="132.500" y="58" font-family="Liberation Sans, sans-serif" font-size="12" fill="#000" text-anchor="end">1.00</text>
<text x="15.8" y="94.700" font-family="Liberation Sans, sans-serif" font-size="12" font-weight="bold" fill="#fff" textLength="22.500" lengthAdjust="spacingAndGlyphs">154</text>
<text x="40.0" y="94.700" font-family="Liberation Sans, sans-serif" font-size="35" fill="#fff" stroke="url(#gpu)" stroke-width="0.450" textLength="36" lengthAdjust="spacingAndGlyphs">83</text>
<text x="79.6" y="79" font-family="Liberation Sans, sans-serif" font-size="13" font-weight="bold" fill="#fff" textLength="9.300" lengthAdjust="spacingAndGlyphs">8</text>
<text x="126.0" y="94.700" font-family="Liberation Sans, sans-serif" font-size="12" font-weight="bold" fill="#fff" textLength="22.500" lengthAdjust="spacingAndGlyphs">154</text>
<text x="150.2" y="94.700" font-family="Liberation Sans, sans-serif" font-size="35" fill="#fff" stroke="url(#gpu)" stroke-width="0.450" textLength="37.5" lengthAdjust="spacingAndGlyphs">88</text>
<text x="189.8" y="79" font-family="Liberation Sans, sans-serif" font-size="13" font-weight="bold" fill="#fff" textLength="9.300" lengthAdjust="spacingAndGlyphs">5</text>
</svg>
</body></html>
